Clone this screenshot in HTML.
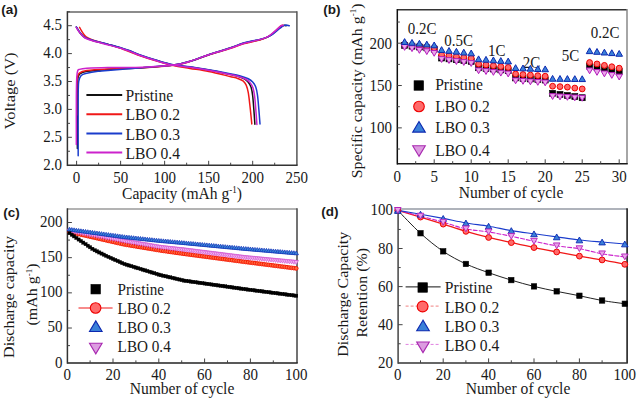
<!DOCTYPE html><html><head><meta charset="utf-8"><style>html,body{margin:0;padding:0;background:#fff;overflow:hidden}svg{display:block}</style></head><body><svg width="637" height="399" viewBox="0 0 637 399">
<rect width="637" height="399" fill="#fff"/>
<text transform="translate(1.20,13.80) scale(1.0,1.0)" font-family='"Liberation Sans", sans-serif' font-size="13.5" font-weight="bold" text-anchor="start" fill="#1a1a1a">(a)</text>
<line x1="67.40" y1="11.90" x2="296.90" y2="11.90" stroke="#666" stroke-width="1.5"/>
<line x1="296.90" y1="11.15" x2="296.90" y2="165.30" stroke="#555" stroke-width="1.5"/>
<line x1="67.40" y1="165.30" x2="297.65" y2="165.30" stroke="#333" stroke-width="1.5"/>
<line x1="67.40" y1="11.15" x2="67.40" y2="166.05" stroke="#333" stroke-width="1.5"/>
<line x1="76.60" y1="165.30" x2="76.60" y2="160.80" stroke="#444" stroke-width="1.0"/>
<text transform="translate(76.60,182.70) scale(1.0,1.14)" font-family='"Liberation Serif", serif' font-size="15" font-weight="normal" text-anchor="middle" fill="#1a1a1a">0</text>
<line x1="120.62" y1="165.30" x2="120.62" y2="160.80" stroke="#444" stroke-width="1.0"/>
<text transform="translate(120.62,182.70) scale(1.0,1.14)" font-family='"Liberation Serif", serif' font-size="15" font-weight="normal" text-anchor="middle" fill="#1a1a1a">50</text>
<line x1="164.64" y1="165.30" x2="164.64" y2="160.80" stroke="#444" stroke-width="1.0"/>
<text transform="translate(164.64,182.70) scale(1.0,1.14)" font-family='"Liberation Serif", serif' font-size="15" font-weight="normal" text-anchor="middle" fill="#1a1a1a">100</text>
<line x1="208.66" y1="165.30" x2="208.66" y2="160.80" stroke="#444" stroke-width="1.0"/>
<text transform="translate(208.66,182.70) scale(1.0,1.14)" font-family='"Liberation Serif", serif' font-size="15" font-weight="normal" text-anchor="middle" fill="#1a1a1a">150</text>
<line x1="252.68" y1="165.30" x2="252.68" y2="160.80" stroke="#444" stroke-width="1.0"/>
<text transform="translate(252.68,182.70) scale(1.0,1.14)" font-family='"Liberation Serif", serif' font-size="15" font-weight="normal" text-anchor="middle" fill="#1a1a1a">200</text>
<text transform="translate(296.70,182.70) scale(1.0,1.14)" font-family='"Liberation Serif", serif' font-size="15" font-weight="normal" text-anchor="middle" fill="#1a1a1a">250</text>
<line x1="98.61" y1="165.30" x2="98.61" y2="162.70" stroke="#444" stroke-width="1.0"/>
<line x1="142.63" y1="165.30" x2="142.63" y2="162.70" stroke="#444" stroke-width="1.0"/>
<line x1="186.65" y1="165.30" x2="186.65" y2="162.70" stroke="#444" stroke-width="1.0"/>
<line x1="230.67" y1="165.30" x2="230.67" y2="162.70" stroke="#444" stroke-width="1.0"/>
<line x1="274.69" y1="165.30" x2="274.69" y2="162.70" stroke="#444" stroke-width="1.0"/>
<text transform="translate(62.00,169.70) scale(1.0,1.14)" font-family='"Liberation Serif", serif' font-size="15" font-weight="normal" text-anchor="end" fill="#1a1a1a">2.0</text>
<line x1="67.40" y1="137.30" x2="71.90" y2="137.30" stroke="#444" stroke-width="1.0"/>
<text transform="translate(62.00,141.80) scale(1.0,1.14)" font-family='"Liberation Serif", serif' font-size="15" font-weight="normal" text-anchor="end" fill="#1a1a1a">2.5</text>
<line x1="67.40" y1="109.40" x2="71.90" y2="109.40" stroke="#444" stroke-width="1.0"/>
<text transform="translate(62.00,113.90) scale(1.0,1.14)" font-family='"Liberation Serif", serif' font-size="15" font-weight="normal" text-anchor="end" fill="#1a1a1a">3.0</text>
<line x1="67.40" y1="81.50" x2="71.90" y2="81.50" stroke="#444" stroke-width="1.0"/>
<text transform="translate(62.00,86.00) scale(1.0,1.14)" font-family='"Liberation Serif", serif' font-size="15" font-weight="normal" text-anchor="end" fill="#1a1a1a">3.5</text>
<line x1="67.40" y1="53.60" x2="71.90" y2="53.60" stroke="#444" stroke-width="1.0"/>
<text transform="translate(62.00,58.10) scale(1.0,1.14)" font-family='"Liberation Serif", serif' font-size="15" font-weight="normal" text-anchor="end" fill="#1a1a1a">4.0</text>
<line x1="67.40" y1="25.70" x2="71.90" y2="25.70" stroke="#444" stroke-width="1.0"/>
<text transform="translate(62.00,30.20) scale(1.0,1.14)" font-family='"Liberation Serif", serif' font-size="15" font-weight="normal" text-anchor="end" fill="#1a1a1a">4.5</text>
<line x1="67.40" y1="151.25" x2="70.00" y2="151.25" stroke="#444" stroke-width="1.0"/>
<line x1="67.40" y1="123.35" x2="70.00" y2="123.35" stroke="#444" stroke-width="1.0"/>
<line x1="67.40" y1="95.45" x2="70.00" y2="95.45" stroke="#444" stroke-width="1.0"/>
<line x1="67.40" y1="67.55" x2="70.00" y2="67.55" stroke="#444" stroke-width="1.0"/>
<line x1="67.40" y1="39.65" x2="70.00" y2="39.65" stroke="#444" stroke-width="1.0"/>
<line x1="67.40" y1="11.75" x2="70.00" y2="11.75" stroke="#444" stroke-width="1.0"/>
<text transform="translate(14.50,91.00) rotate(-90) scale(1.0,0.92)" font-family='"Liberation Serif", serif' font-size="16.5" font-weight="normal" text-anchor="middle" fill="#1a1a1a">Voltage (V)</text>
<text transform="translate(182.00,199.40) scale(1.0,1.1)" font-family='"Liberation Serif", serif' font-size="15.6" font-weight="normal" text-anchor="middle" fill="#1a1a1a">Capacity (mAh g<tspan font-size="9" dy="-6">-1</tspan><tspan dy="6">)</tspan></text>
<path d="M76.34,27.04 C76.67,27.60 77.58,29.22 78.36,30.39 C79.14,31.55 79.90,32.81 81.00,34.01 C82.10,35.22 83.03,36.57 84.96,37.64 C86.90,38.71 88.85,39.32 92.62,40.43 C96.39,41.55 103.03,43.13 107.59,44.34 C112.15,45.55 116.26,46.57 120.00,47.69 C123.75,48.80 126.80,49.82 130.04,51.03 C133.28,52.24 135.16,53.40 139.46,54.94 C143.76,56.47 150.17,58.57 155.84,60.24 C161.50,61.91 167.75,63.87 173.44,64.98 C179.14,66.10 184.13,66.10 190.00,66.94 C195.86,67.77 202.35,68.84 208.66,70.01 C214.97,71.17 223.09,72.89 227.85,73.91 C232.60,74.93 234.45,75.31 237.20,76.14 C239.95,76.98 242.49,77.91 244.34,78.93 C246.19,79.96 247.18,80.89 248.30,82.28 C249.42,83.68 250.35,85.07 251.08,87.30 C251.80,89.54 252.20,91.95 252.66,95.67 C253.12,99.39 253.48,104.88 253.85,109.62 C254.22,114.37 254.71,121.71 254.88,124.13" fill="none" stroke="#111" stroke-width="1.5" stroke-linejoin="round" stroke-linecap="round" opacity="1"/>
<path d="M77.39,148.46 C77.39,140.09 77.32,109.86 77.39,98.24 C77.47,86.61 77.38,82.80 77.83,78.71 C78.29,74.62 78.62,74.92 80.12,73.69 C81.62,72.45 82.21,72.00 86.81,71.29 C91.42,70.57 98.51,70.00 107.77,69.39 C117.03,68.79 131.42,68.39 142.37,67.66 C153.31,66.94 165.51,66.10 173.44,65.04 C181.38,63.98 184.13,63.02 190.00,61.30 C195.86,59.58 202.00,56.93 208.66,54.72 C215.32,52.50 224.02,49.97 229.97,48.02 C235.91,46.07 239.36,44.39 244.32,43.00 C249.28,41.60 255.88,40.63 259.72,39.65 C263.57,38.67 265.18,38.16 267.38,37.14 C269.58,36.12 270.39,35.42 272.93,33.51 C275.47,31.61 280.41,27.00 282.61,25.70 C284.81,24.40 285.55,25.70 286.14,25.70" fill="none" stroke="#111" stroke-width="1.5" stroke-linejoin="round" stroke-linecap="round" opacity="1"/>
<path d="M79.59,27.37 C79.90,27.93 80.62,29.42 81.44,30.72 C82.26,32.02 83.42,33.98 84.52,35.19 C85.62,36.39 86.70,37.19 88.05,37.98 C89.40,38.77 89.37,38.86 92.62,39.93 C95.88,41.00 103.03,43.04 107.59,44.39 C112.15,45.74 114.69,46.16 120.00,48.02 C125.32,49.88 133.49,53.41 139.46,55.55 C145.43,57.69 150.17,59.18 155.84,60.85 C161.50,62.53 167.75,64.34 173.44,65.60 C179.14,66.85 184.13,67.41 190.00,68.39 C195.86,69.36 202.00,70.11 208.66,71.46 C215.32,72.80 225.12,75.32 229.97,76.48 C234.81,77.64 235.54,77.69 237.71,78.43 C239.88,79.17 241.60,79.87 243.00,80.94 C244.39,82.01 245.20,82.89 246.08,84.85 C246.96,86.80 247.62,89.03 248.28,92.66 C248.94,96.29 249.60,102.89 250.04,106.61 C250.48,110.33 250.63,112.10 250.92,114.98 C251.21,117.86 251.65,122.42 251.80,123.91" fill="none" stroke="#f01818" stroke-width="1.5" stroke-linejoin="round" stroke-linecap="round" opacity="1"/>
<path d="M76.86,114.98 C76.86,110.33 76.79,93.22 76.86,87.08 C76.94,80.94 76.89,80.47 77.30,78.15 C77.72,75.84 77.74,74.46 79.33,73.19 C80.91,71.91 82.07,71.20 86.81,70.51 C91.55,69.81 98.51,69.45 107.77,69.00 C117.03,68.55 131.42,68.44 142.37,67.83 C153.31,67.22 165.51,66.37 173.44,65.32 C181.38,64.27 184.13,63.24 190.00,61.52 C195.86,59.80 202.00,57.15 208.66,54.99 C215.32,52.84 224.02,50.48 229.97,48.58 C235.91,46.67 239.36,45.00 244.32,43.56 C249.28,42.11 255.88,41.00 259.72,39.93 C263.57,38.86 265.18,38.26 267.38,37.14 C269.58,36.02 270.61,35.14 272.93,33.23 C275.25,31.33 279.53,26.96 281.29,25.70 C283.05,24.44 283.13,25.70 283.49,25.70" fill="none" stroke="#f01818" stroke-width="1.5" stroke-linejoin="round" stroke-linecap="round" opacity="1"/>
<path d="M76.34,26.82 C76.67,27.37 77.58,29.00 78.36,30.16 C79.14,31.33 79.90,32.58 81.00,33.79 C82.10,35.00 83.03,36.35 84.96,37.42 C86.90,38.49 88.85,39.09 92.62,40.21 C96.39,41.32 103.03,42.91 107.59,44.11 C112.15,45.32 116.26,46.35 120.00,47.46 C123.75,48.58 126.80,49.60 130.04,50.81 C133.28,52.02 135.16,53.18 139.46,54.72 C143.76,56.25 150.17,58.34 155.84,60.02 C161.50,61.69 167.75,63.64 173.44,64.76 C179.14,65.88 184.13,65.88 190.00,66.71 C195.86,67.55 202.00,68.62 208.66,69.78 C215.32,70.94 224.68,72.66 229.97,73.69 C235.25,74.71 237.30,75.08 240.35,75.92 C243.41,76.76 246.22,77.69 248.28,78.71 C250.33,79.73 251.43,80.66 252.68,82.06 C253.93,83.45 254.95,84.85 255.76,87.08 C256.57,89.31 257.01,91.73 257.52,95.45 C258.04,99.17 258.43,104.66 258.84,109.40 C259.25,114.14 259.80,121.49 259.99,123.91" fill="none" stroke="#1a3ccc" stroke-width="1.5" stroke-linejoin="round" stroke-linecap="round" opacity="1"/>
<path d="M78.18,155.71 C78.18,146.13 78.10,110.61 78.18,98.24 C78.27,85.87 78.21,85.30 78.71,81.50 C79.21,77.70 79.83,76.80 81.18,75.42 C82.53,74.03 84.01,73.87 86.81,73.19 C89.62,72.50 94.50,71.73 97.99,71.29 C101.49,70.84 100.37,71.11 107.77,70.51 C115.16,69.90 131.42,68.57 142.37,67.66 C153.31,66.75 165.51,66.10 173.44,65.04 C181.38,63.98 184.13,63.02 190.00,61.30 C195.86,59.58 202.00,56.93 208.66,54.72 C215.32,52.50 224.02,50.02 229.97,48.02 C235.91,46.02 239.36,44.16 244.32,42.72 C249.28,41.28 255.88,40.30 259.72,39.37 C263.57,38.44 265.18,38.02 267.38,37.14 C269.58,36.26 270.20,35.98 272.93,34.07 C275.66,32.16 281.03,27.09 283.76,25.70 C286.49,24.30 288.38,25.70 289.30,25.70" fill="none" stroke="#1a3ccc" stroke-width="1.5" stroke-linejoin="round" stroke-linecap="round" opacity="1"/>
<path d="M76.34,27.37 C76.67,27.93 77.58,29.56 78.36,30.72 C79.14,31.88 79.90,33.14 81.00,34.35 C82.10,35.56 83.03,36.91 84.96,37.98 C86.90,39.05 88.85,39.65 92.62,40.77 C96.39,41.88 103.03,43.46 107.59,44.67 C112.15,45.88 116.26,46.90 120.00,48.02 C123.75,49.14 126.80,50.16 130.04,51.37 C133.28,52.58 135.16,53.74 139.46,55.27 C143.76,56.81 150.17,58.90 155.84,60.57 C161.50,62.25 167.75,64.20 173.44,65.32 C179.14,66.43 184.13,66.43 190.00,67.27 C195.86,68.11 202.21,69.18 208.66,70.34 C215.11,71.50 223.72,73.22 228.69,74.25 C233.65,75.27 235.58,75.64 238.45,76.48 C241.32,77.31 243.97,78.24 245.90,79.27 C247.83,80.29 248.86,81.22 250.04,82.62 C251.21,84.01 252.18,85.41 252.93,87.64 C253.69,89.87 254.11,92.29 254.59,96.01 C255.07,99.73 255.44,105.21 255.83,109.96 C256.22,114.70 256.73,122.05 256.91,124.47" fill="none" stroke="#cc22cc" stroke-width="1.5" stroke-linejoin="round" stroke-linecap="round" opacity="1"/>
<path d="M76.34,144.55 C76.34,136.83 76.26,109.49 76.34,98.24 C76.41,86.99 76.56,81.59 76.78,77.04 C77.00,72.48 77.23,72.17 77.66,70.90 C78.08,69.62 77.80,69.83 79.33,69.39 C80.86,68.95 82.07,68.59 86.81,68.28 C91.55,67.96 98.51,67.66 107.77,67.49 C117.03,67.33 131.42,67.68 142.37,67.27 C153.31,66.86 165.51,66.03 173.44,65.04 C181.38,64.04 184.13,63.02 190.00,61.30 C195.86,59.58 202.00,56.88 208.66,54.72 C215.32,52.55 224.02,50.21 229.97,48.30 C235.91,46.39 239.36,44.72 244.32,43.28 C249.28,41.84 255.88,40.72 259.72,39.65 C263.57,38.58 265.18,37.98 267.38,36.86 C269.58,35.74 270.61,34.81 272.93,32.95 C275.25,31.09 279.61,26.91 281.29,25.70 C282.98,24.49 282.76,25.70 283.05,25.70" fill="none" stroke="#cc22cc" stroke-width="1.5" stroke-linejoin="round" stroke-linecap="round" opacity="1"/>
<line x1="86.40" y1="95.00" x2="122.20" y2="95.00" stroke="#111" stroke-width="2.0"/>
<text transform="translate(125.50,101.20) scale(1.0,1.1)" font-family='"Liberation Serif", serif' font-size="15.6" font-weight="normal" text-anchor="start" fill="#1a1a1a">Pristine</text>
<line x1="86.40" y1="114.20" x2="122.20" y2="114.20" stroke="#f01818" stroke-width="2.0"/>
<text transform="translate(125.50,120.40) scale(1.0,1.1)" font-family='"Liberation Serif", serif' font-size="15.6" font-weight="normal" text-anchor="start" fill="#1a1a1a">LBO 0.2</text>
<line x1="86.40" y1="133.40" x2="122.20" y2="133.40" stroke="#1a3ccc" stroke-width="2.0"/>
<text transform="translate(125.50,139.60) scale(1.0,1.1)" font-family='"Liberation Serif", serif' font-size="15.6" font-weight="normal" text-anchor="start" fill="#1a1a1a">LBO 0.3</text>
<line x1="86.40" y1="152.60" x2="122.20" y2="152.60" stroke="#cc22cc" stroke-width="2.0"/>
<text transform="translate(125.50,158.80) scale(1.0,1.1)" font-family='"Liberation Serif", serif' font-size="15.6" font-weight="normal" text-anchor="start" fill="#1a1a1a">LBO 0.4</text>
<text transform="translate(323.20,13.80) scale(1.0,1.0)" font-family='"Liberation Sans", sans-serif' font-size="13.5" font-weight="bold" text-anchor="start" fill="#1a1a1a">(b)</text>
<line x1="397.30" y1="9.80" x2="627.00" y2="9.80" stroke="#333" stroke-width="1.5"/>
<line x1="627.00" y1="9.05" x2="627.00" y2="163.80" stroke="#888" stroke-width="1.5"/>
<line x1="397.30" y1="163.80" x2="627.75" y2="163.80" stroke="#1a1a1a" stroke-width="1.5"/>
<line x1="397.30" y1="9.05" x2="397.30" y2="164.55" stroke="#111" stroke-width="1.5"/>
<text transform="translate(397.20,181.90) scale(1.0,1.14)" font-family='"Liberation Serif", serif' font-size="15" font-weight="normal" text-anchor="middle" fill="#1a1a1a">0</text>
<line x1="434.20" y1="163.80" x2="434.20" y2="159.30" stroke="#444" stroke-width="1.0"/>
<text transform="translate(434.20,181.90) scale(1.0,1.14)" font-family='"Liberation Serif", serif' font-size="15" font-weight="normal" text-anchor="middle" fill="#1a1a1a">5</text>
<line x1="471.20" y1="163.80" x2="471.20" y2="159.30" stroke="#444" stroke-width="1.0"/>
<text transform="translate(471.20,181.90) scale(1.0,1.14)" font-family='"Liberation Serif", serif' font-size="15" font-weight="normal" text-anchor="middle" fill="#1a1a1a">10</text>
<line x1="508.20" y1="163.80" x2="508.20" y2="159.30" stroke="#444" stroke-width="1.0"/>
<text transform="translate(508.20,181.90) scale(1.0,1.14)" font-family='"Liberation Serif", serif' font-size="15" font-weight="normal" text-anchor="middle" fill="#1a1a1a">15</text>
<line x1="545.20" y1="163.80" x2="545.20" y2="159.30" stroke="#444" stroke-width="1.0"/>
<text transform="translate(545.20,181.90) scale(1.0,1.14)" font-family='"Liberation Serif", serif' font-size="15" font-weight="normal" text-anchor="middle" fill="#1a1a1a">20</text>
<line x1="582.20" y1="163.80" x2="582.20" y2="159.30" stroke="#444" stroke-width="1.0"/>
<text transform="translate(582.20,181.90) scale(1.0,1.14)" font-family='"Liberation Serif", serif' font-size="15" font-weight="normal" text-anchor="middle" fill="#1a1a1a">25</text>
<line x1="619.20" y1="163.80" x2="619.20" y2="159.30" stroke="#444" stroke-width="1.0"/>
<text transform="translate(619.20,181.90) scale(1.0,1.14)" font-family='"Liberation Serif", serif' font-size="15" font-weight="normal" text-anchor="middle" fill="#1a1a1a">30</text>
<line x1="415.70" y1="163.80" x2="415.70" y2="161.20" stroke="#444" stroke-width="1.0"/>
<line x1="452.70" y1="163.80" x2="452.70" y2="161.20" stroke="#444" stroke-width="1.0"/>
<line x1="489.70" y1="163.80" x2="489.70" y2="161.20" stroke="#444" stroke-width="1.0"/>
<line x1="526.70" y1="163.80" x2="526.70" y2="161.20" stroke="#444" stroke-width="1.0"/>
<line x1="563.70" y1="163.80" x2="563.70" y2="161.20" stroke="#444" stroke-width="1.0"/>
<line x1="600.70" y1="163.80" x2="600.70" y2="161.20" stroke="#444" stroke-width="1.0"/>
<line x1="397.30" y1="127.86" x2="401.80" y2="127.86" stroke="#444" stroke-width="1.0"/>
<text transform="translate(392.00,133.46) scale(1.0,1.14)" font-family='"Liberation Serif", serif' font-size="15" font-weight="normal" text-anchor="end" fill="#1a1a1a">100</text>
<line x1="397.30" y1="85.53" x2="401.80" y2="85.53" stroke="#444" stroke-width="1.0"/>
<text transform="translate(392.00,91.13) scale(1.0,1.14)" font-family='"Liberation Serif", serif' font-size="15" font-weight="normal" text-anchor="end" fill="#1a1a1a">150</text>
<line x1="397.30" y1="43.20" x2="401.80" y2="43.20" stroke="#444" stroke-width="1.0"/>
<text transform="translate(392.00,48.80) scale(1.0,1.14)" font-family='"Liberation Serif", serif' font-size="15" font-weight="normal" text-anchor="end" fill="#1a1a1a">200</text>
<line x1="397.30" y1="149.03" x2="399.90" y2="149.03" stroke="#444" stroke-width="1.0"/>
<line x1="397.30" y1="106.70" x2="399.90" y2="106.70" stroke="#444" stroke-width="1.0"/>
<line x1="397.30" y1="64.37" x2="399.90" y2="64.37" stroke="#444" stroke-width="1.0"/>
<line x1="397.30" y1="22.04" x2="399.90" y2="22.04" stroke="#444" stroke-width="1.0"/>
<text transform="translate(361.80,90.90) rotate(-90) scale(1.0,0.92)" font-family='"Liberation Serif", serif' font-size="15.9" font-weight="normal" text-anchor="middle" fill="#1a1a1a">Specific capacity (mAh g<tspan font-size="9" dy="-6">-1</tspan><tspan dy="6">)</tspan></text>
<text transform="translate(511.00,197.80) scale(1.0,1.1)" font-family='"Liberation Serif", serif' font-size="15.6" font-weight="normal" text-anchor="middle" fill="#1a1a1a">Number of cycle</text>
<text transform="translate(407.80,34.30) scale(1.0,1.14)" font-family='"Liberation Serif", serif' font-size="15" font-weight="normal" text-anchor="start" fill="#1a1a1a">0.2C</text>
<text transform="translate(444.20,46.20) scale(1.0,1.14)" font-family='"Liberation Serif", serif' font-size="15" font-weight="normal" text-anchor="start" fill="#1a1a1a">0.5C</text>
<text transform="translate(488.00,56.00) scale(1.0,1.14)" font-family='"Liberation Serif", serif' font-size="15" font-weight="normal" text-anchor="start" fill="#1a1a1a">1C</text>
<text transform="translate(522.80,67.50) scale(1.0,1.14)" font-family='"Liberation Serif", serif' font-size="15" font-weight="normal" text-anchor="start" fill="#1a1a1a">2C</text>
<text transform="translate(561.80,60.50) scale(1.0,1.14)" font-family='"Liberation Serif", serif' font-size="15" font-weight="normal" text-anchor="start" fill="#1a1a1a">5C</text>
<text transform="translate(590.80,37.50) scale(1.0,1.14)" font-family='"Liberation Serif", serif' font-size="15" font-weight="normal" text-anchor="start" fill="#1a1a1a">0.2C</text>
<rect x="401.60" y="42.32" width="6.00" height="6.00" fill="#000" stroke="#000" stroke-width="0.6"/>
<rect x="409.00" y="43.16" width="6.00" height="6.00" fill="#000" stroke="#000" stroke-width="0.6"/>
<rect x="416.40" y="44.01" width="6.00" height="6.00" fill="#000" stroke="#000" stroke-width="0.6"/>
<rect x="423.80" y="44.86" width="6.00" height="6.00" fill="#000" stroke="#000" stroke-width="0.6"/>
<rect x="431.20" y="46.13" width="6.00" height="6.00" fill="#000" stroke="#000" stroke-width="0.6"/>
<rect x="438.60" y="55.02" width="6.00" height="6.00" fill="#000" stroke="#000" stroke-width="0.6"/>
<rect x="446.00" y="55.86" width="6.00" height="6.00" fill="#000" stroke="#000" stroke-width="0.6"/>
<rect x="453.40" y="56.71" width="6.00" height="6.00" fill="#000" stroke="#000" stroke-width="0.6"/>
<rect x="460.80" y="57.56" width="6.00" height="6.00" fill="#000" stroke="#000" stroke-width="0.6"/>
<rect x="468.20" y="58.40" width="6.00" height="6.00" fill="#000" stroke="#000" stroke-width="0.6"/>
<rect x="475.60" y="64.75" width="6.00" height="6.00" fill="#000" stroke="#000" stroke-width="0.6"/>
<rect x="483.00" y="65.43" width="6.00" height="6.00" fill="#000" stroke="#000" stroke-width="0.6"/>
<rect x="490.40" y="66.02" width="6.00" height="6.00" fill="#000" stroke="#000" stroke-width="0.6"/>
<rect x="497.80" y="66.87" width="6.00" height="6.00" fill="#000" stroke="#000" stroke-width="0.6"/>
<rect x="505.20" y="67.71" width="6.00" height="6.00" fill="#000" stroke="#000" stroke-width="0.6"/>
<rect x="512.60" y="74.91" width="6.00" height="6.00" fill="#000" stroke="#000" stroke-width="0.6"/>
<rect x="520.00" y="75.33" width="6.00" height="6.00" fill="#000" stroke="#000" stroke-width="0.6"/>
<rect x="527.40" y="75.93" width="6.00" height="6.00" fill="#000" stroke="#000" stroke-width="0.6"/>
<rect x="534.80" y="76.52" width="6.00" height="6.00" fill="#000" stroke="#000" stroke-width="0.6"/>
<rect x="542.20" y="77.03" width="6.00" height="6.00" fill="#000" stroke="#000" stroke-width="0.6"/>
<rect x="549.60" y="90.32" width="6.00" height="6.00" fill="#000" stroke="#000" stroke-width="0.6"/>
<rect x="557.00" y="91.42" width="6.00" height="6.00" fill="#000" stroke="#000" stroke-width="0.6"/>
<rect x="564.40" y="92.52" width="6.00" height="6.00" fill="#000" stroke="#000" stroke-width="0.6"/>
<rect x="571.80" y="93.54" width="6.00" height="6.00" fill="#000" stroke="#000" stroke-width="0.6"/>
<rect x="579.20" y="94.72" width="6.00" height="6.00" fill="#000" stroke="#000" stroke-width="0.6"/>
<rect x="586.60" y="63.06" width="6.00" height="6.00" fill="#000" stroke="#000" stroke-width="0.6"/>
<rect x="594.00" y="64.41" width="6.00" height="6.00" fill="#000" stroke="#000" stroke-width="0.6"/>
<rect x="601.40" y="65.77" width="6.00" height="6.00" fill="#000" stroke="#000" stroke-width="0.6"/>
<rect x="608.80" y="67.12" width="6.00" height="6.00" fill="#000" stroke="#000" stroke-width="0.6"/>
<rect x="616.20" y="68.48" width="6.00" height="6.00" fill="#000" stroke="#000" stroke-width="0.6"/>
<circle cx="404.60" cy="44.47" r="2.90" fill="#ff6a6a" stroke="#ee0000" stroke-width="1.0"/>
<circle cx="412.00" cy="45.32" r="2.90" fill="#ff6a6a" stroke="#ee0000" stroke-width="1.0"/>
<circle cx="419.40" cy="46.16" r="2.90" fill="#ff6a6a" stroke="#ee0000" stroke-width="1.0"/>
<circle cx="426.80" cy="47.01" r="2.90" fill="#ff6a6a" stroke="#ee0000" stroke-width="1.0"/>
<circle cx="434.20" cy="47.86" r="2.90" fill="#ff6a6a" stroke="#ee0000" stroke-width="1.0"/>
<circle cx="441.60" cy="54.80" r="2.90" fill="#ff6a6a" stroke="#ee0000" stroke-width="1.0"/>
<circle cx="449.00" cy="55.65" r="2.90" fill="#ff6a6a" stroke="#ee0000" stroke-width="1.0"/>
<circle cx="456.40" cy="56.49" r="2.90" fill="#ff6a6a" stroke="#ee0000" stroke-width="1.0"/>
<circle cx="463.80" cy="57.34" r="2.90" fill="#ff6a6a" stroke="#ee0000" stroke-width="1.0"/>
<circle cx="471.20" cy="58.18" r="2.90" fill="#ff6a6a" stroke="#ee0000" stroke-width="1.0"/>
<circle cx="478.60" cy="64.03" r="2.90" fill="#ff6a6a" stroke="#ee0000" stroke-width="1.0"/>
<circle cx="486.00" cy="64.87" r="2.90" fill="#ff6a6a" stroke="#ee0000" stroke-width="1.0"/>
<circle cx="493.40" cy="65.72" r="2.90" fill="#ff6a6a" stroke="#ee0000" stroke-width="1.0"/>
<circle cx="500.80" cy="66.57" r="2.90" fill="#ff6a6a" stroke="#ee0000" stroke-width="1.0"/>
<circle cx="508.20" cy="67.41" r="2.90" fill="#ff6a6a" stroke="#ee0000" stroke-width="1.0"/>
<circle cx="515.60" cy="73.93" r="2.90" fill="#ff6a6a" stroke="#ee0000" stroke-width="1.0"/>
<circle cx="523.00" cy="74.52" r="2.90" fill="#ff6a6a" stroke="#ee0000" stroke-width="1.0"/>
<circle cx="530.40" cy="75.03" r="2.90" fill="#ff6a6a" stroke="#ee0000" stroke-width="1.0"/>
<circle cx="537.80" cy="75.62" r="2.90" fill="#ff6a6a" stroke="#ee0000" stroke-width="1.0"/>
<circle cx="545.20" cy="76.22" r="2.90" fill="#ff6a6a" stroke="#ee0000" stroke-width="1.0"/>
<circle cx="552.60" cy="86.21" r="2.90" fill="#ff6a6a" stroke="#ee0000" stroke-width="1.0"/>
<circle cx="560.00" cy="86.63" r="2.90" fill="#ff6a6a" stroke="#ee0000" stroke-width="1.0"/>
<circle cx="567.40" cy="87.14" r="2.90" fill="#ff6a6a" stroke="#ee0000" stroke-width="1.0"/>
<circle cx="574.80" cy="88.07" r="2.90" fill="#ff6a6a" stroke="#ee0000" stroke-width="1.0"/>
<circle cx="582.20" cy="88.92" r="2.90" fill="#ff6a6a" stroke="#ee0000" stroke-width="1.0"/>
<circle cx="589.60" cy="62.50" r="2.90" fill="#ff6a6a" stroke="#ee0000" stroke-width="1.0"/>
<circle cx="597.00" cy="63.94" r="2.90" fill="#ff6a6a" stroke="#ee0000" stroke-width="1.0"/>
<circle cx="604.40" cy="65.38" r="2.90" fill="#ff6a6a" stroke="#ee0000" stroke-width="1.0"/>
<circle cx="611.80" cy="66.74" r="2.90" fill="#ff6a6a" stroke="#ee0000" stroke-width="1.0"/>
<circle cx="619.20" cy="68.17" r="2.90" fill="#ff6a6a" stroke="#ee0000" stroke-width="1.0"/>
<polygon points="404.60,50.33 401.30,44.53 407.90,44.53" fill="#eaa6ea" stroke="#b41cbc" stroke-width="1.0" stroke-linejoin="miter"/>
<polygon points="412.00,51.60 408.70,45.80 415.30,45.80" fill="#eaa6ea" stroke="#b41cbc" stroke-width="1.0" stroke-linejoin="miter"/>
<polygon points="419.40,53.30 416.10,47.50 422.70,47.50" fill="#eaa6ea" stroke="#b41cbc" stroke-width="1.0" stroke-linejoin="miter"/>
<polygon points="426.80,54.57 423.50,48.77 430.10,48.77" fill="#eaa6ea" stroke="#b41cbc" stroke-width="1.0" stroke-linejoin="miter"/>
<polygon points="434.20,56.26 430.90,50.46 437.50,50.46" fill="#eaa6ea" stroke="#b41cbc" stroke-width="1.0" stroke-linejoin="miter"/>
<polygon points="441.60,62.44 438.30,56.64 444.90,56.64" fill="#eaa6ea" stroke="#b41cbc" stroke-width="1.0" stroke-linejoin="miter"/>
<polygon points="449.00,63.46 445.70,57.66 452.30,57.66" fill="#eaa6ea" stroke="#b41cbc" stroke-width="1.0" stroke-linejoin="miter"/>
<polygon points="456.40,64.47 453.10,58.67 459.70,58.67" fill="#eaa6ea" stroke="#b41cbc" stroke-width="1.0" stroke-linejoin="miter"/>
<polygon points="463.80,65.40 460.50,59.60 467.10,59.60" fill="#eaa6ea" stroke="#b41cbc" stroke-width="1.0" stroke-linejoin="miter"/>
<polygon points="471.20,66.42 467.90,60.62 474.50,60.62" fill="#eaa6ea" stroke="#b41cbc" stroke-width="1.0" stroke-linejoin="miter"/>
<polygon points="478.60,73.70 475.30,67.90 481.90,67.90" fill="#eaa6ea" stroke="#b41cbc" stroke-width="1.0" stroke-linejoin="miter"/>
<polygon points="486.00,74.46 482.70,68.66 489.30,68.66" fill="#eaa6ea" stroke="#b41cbc" stroke-width="1.0" stroke-linejoin="miter"/>
<polygon points="493.40,75.31 490.10,69.51 496.70,69.51" fill="#eaa6ea" stroke="#b41cbc" stroke-width="1.0" stroke-linejoin="miter"/>
<polygon points="500.80,76.07 497.50,70.27 504.10,70.27" fill="#eaa6ea" stroke="#b41cbc" stroke-width="1.0" stroke-linejoin="miter"/>
<polygon points="508.20,76.92 504.90,71.12 511.50,71.12" fill="#eaa6ea" stroke="#b41cbc" stroke-width="1.0" stroke-linejoin="miter"/>
<polygon points="515.60,83.77 512.30,77.97 518.90,77.97" fill="#eaa6ea" stroke="#b41cbc" stroke-width="1.0" stroke-linejoin="miter"/>
<polygon points="523.00,84.28 519.70,78.48 526.30,78.48" fill="#eaa6ea" stroke="#b41cbc" stroke-width="1.0" stroke-linejoin="miter"/>
<polygon points="530.40,84.79 527.10,78.99 533.70,78.99" fill="#eaa6ea" stroke="#b41cbc" stroke-width="1.0" stroke-linejoin="miter"/>
<polygon points="537.80,85.30 534.50,79.50 541.10,79.50" fill="#eaa6ea" stroke="#b41cbc" stroke-width="1.0" stroke-linejoin="miter"/>
<polygon points="545.20,85.81 541.90,80.01 548.50,80.01" fill="#eaa6ea" stroke="#b41cbc" stroke-width="1.0" stroke-linejoin="miter"/>
<polygon points="552.60,99.44 549.30,93.64 555.90,93.64" fill="#eaa6ea" stroke="#b41cbc" stroke-width="1.0" stroke-linejoin="miter"/>
<polygon points="560.00,99.86 556.70,94.06 563.30,94.06" fill="#eaa6ea" stroke="#b41cbc" stroke-width="1.0" stroke-linejoin="miter"/>
<polygon points="567.40,100.28 564.10,94.48 570.70,94.48" fill="#eaa6ea" stroke="#b41cbc" stroke-width="1.0" stroke-linejoin="miter"/>
<polygon points="574.80,100.79 571.50,94.99 578.10,94.99" fill="#eaa6ea" stroke="#b41cbc" stroke-width="1.0" stroke-linejoin="miter"/>
<polygon points="582.20,101.21 578.90,95.41 585.50,95.41" fill="#eaa6ea" stroke="#b41cbc" stroke-width="1.0" stroke-linejoin="miter"/>
<polygon points="589.60,73.78 586.30,67.98 592.90,67.98" fill="#eaa6ea" stroke="#b41cbc" stroke-width="1.0" stroke-linejoin="miter"/>
<polygon points="597.00,75.31 593.70,69.51 600.30,69.51" fill="#eaa6ea" stroke="#b41cbc" stroke-width="1.0" stroke-linejoin="miter"/>
<polygon points="604.40,76.83 601.10,71.03 607.70,71.03" fill="#eaa6ea" stroke="#b41cbc" stroke-width="1.0" stroke-linejoin="miter"/>
<polygon points="611.80,78.36 608.50,72.56 615.10,72.56" fill="#eaa6ea" stroke="#b41cbc" stroke-width="1.0" stroke-linejoin="miter"/>
<polygon points="619.20,79.96 615.90,74.16 622.50,74.16" fill="#eaa6ea" stroke="#b41cbc" stroke-width="1.0" stroke-linejoin="miter"/>
<polygon points="404.60,38.61 401.30,44.41 407.90,44.41" fill="#3a80d8" stroke="#0c28b0" stroke-width="1.0" stroke-linejoin="miter"/>
<polygon points="412.00,39.45 408.70,45.25 415.30,45.25" fill="#3a80d8" stroke="#0c28b0" stroke-width="1.0" stroke-linejoin="miter"/>
<polygon points="419.40,40.30 416.10,46.10 422.70,46.10" fill="#3a80d8" stroke="#0c28b0" stroke-width="1.0" stroke-linejoin="miter"/>
<polygon points="426.80,41.15 423.50,46.95 430.10,46.95" fill="#3a80d8" stroke="#0c28b0" stroke-width="1.0" stroke-linejoin="miter"/>
<polygon points="434.20,41.99 430.90,47.79 437.50,47.79" fill="#3a80d8" stroke="#0c28b0" stroke-width="1.0" stroke-linejoin="miter"/>
<polygon points="441.60,46.65 438.30,52.45 444.90,52.45" fill="#3a80d8" stroke="#0c28b0" stroke-width="1.0" stroke-linejoin="miter"/>
<polygon points="449.00,47.50 445.70,53.30 452.30,53.30" fill="#3a80d8" stroke="#0c28b0" stroke-width="1.0" stroke-linejoin="miter"/>
<polygon points="456.40,48.34 453.10,54.14 459.70,54.14" fill="#3a80d8" stroke="#0c28b0" stroke-width="1.0" stroke-linejoin="miter"/>
<polygon points="463.80,49.19 460.50,54.99 467.10,54.99" fill="#3a80d8" stroke="#0c28b0" stroke-width="1.0" stroke-linejoin="miter"/>
<polygon points="471.20,50.04 467.90,55.84 474.50,55.84" fill="#3a80d8" stroke="#0c28b0" stroke-width="1.0" stroke-linejoin="miter"/>
<polygon points="478.60,55.88 475.30,61.68 481.90,61.68" fill="#3a80d8" stroke="#0c28b0" stroke-width="1.0" stroke-linejoin="miter"/>
<polygon points="486.00,56.39 482.70,62.19 489.30,62.19" fill="#3a80d8" stroke="#0c28b0" stroke-width="1.0" stroke-linejoin="miter"/>
<polygon points="493.40,56.98 490.10,62.78 496.70,62.78" fill="#3a80d8" stroke="#0c28b0" stroke-width="1.0" stroke-linejoin="miter"/>
<polygon points="500.80,57.57 497.50,63.37 504.10,63.37" fill="#3a80d8" stroke="#0c28b0" stroke-width="1.0" stroke-linejoin="miter"/>
<polygon points="508.20,58.08 504.90,63.88 511.50,63.88" fill="#3a80d8" stroke="#0c28b0" stroke-width="1.0" stroke-linejoin="miter"/>
<polygon points="515.60,64.68 512.30,70.48 518.90,70.48" fill="#3a80d8" stroke="#0c28b0" stroke-width="1.0" stroke-linejoin="miter"/>
<polygon points="523.00,65.02 519.70,70.82 526.30,70.82" fill="#3a80d8" stroke="#0c28b0" stroke-width="1.0" stroke-linejoin="miter"/>
<polygon points="530.40,65.36 527.10,71.16 533.70,71.16" fill="#3a80d8" stroke="#0c28b0" stroke-width="1.0" stroke-linejoin="miter"/>
<polygon points="537.80,65.70 534.50,71.50 541.10,71.50" fill="#3a80d8" stroke="#0c28b0" stroke-width="1.0" stroke-linejoin="miter"/>
<polygon points="545.20,65.95 541.90,71.75 548.50,71.75" fill="#3a80d8" stroke="#0c28b0" stroke-width="1.0" stroke-linejoin="miter"/>
<polygon points="552.60,75.43 549.30,81.23 555.90,81.23" fill="#3a80d8" stroke="#0c28b0" stroke-width="1.0" stroke-linejoin="miter"/>
<polygon points="560.00,75.52 556.70,81.32 563.30,81.32" fill="#3a80d8" stroke="#0c28b0" stroke-width="1.0" stroke-linejoin="miter"/>
<polygon points="567.40,75.60 564.10,81.40 570.70,81.40" fill="#3a80d8" stroke="#0c28b0" stroke-width="1.0" stroke-linejoin="miter"/>
<polygon points="574.80,75.69 571.50,81.49 578.10,81.49" fill="#3a80d8" stroke="#0c28b0" stroke-width="1.0" stroke-linejoin="miter"/>
<polygon points="582.20,75.77 578.90,81.57 585.50,81.57" fill="#3a80d8" stroke="#0c28b0" stroke-width="1.0" stroke-linejoin="miter"/>
<polygon points="589.60,47.83 586.30,53.63 592.90,53.63" fill="#3a80d8" stroke="#0c28b0" stroke-width="1.0" stroke-linejoin="miter"/>
<polygon points="597.00,48.51 593.70,54.31 600.30,54.31" fill="#3a80d8" stroke="#0c28b0" stroke-width="1.0" stroke-linejoin="miter"/>
<polygon points="604.40,49.19 601.10,54.99 607.70,54.99" fill="#3a80d8" stroke="#0c28b0" stroke-width="1.0" stroke-linejoin="miter"/>
<polygon points="611.80,49.78 608.50,55.58 615.10,55.58" fill="#3a80d8" stroke="#0c28b0" stroke-width="1.0" stroke-linejoin="miter"/>
<polygon points="619.20,50.46 615.90,56.26 622.50,56.26" fill="#3a80d8" stroke="#0c28b0" stroke-width="1.0" stroke-linejoin="miter"/>
<rect x="414.05" y="80.75" width="9.50" height="9.50" fill="#000" stroke="#000" stroke-width="0.6"/>
<circle cx="419.00" cy="106.50" r="5.30" fill="#ff6a6a" stroke="#ee0000" stroke-width="1.1"/>
<polygon points="419.00,121.50 412.70,132.10 425.30,132.10" fill="#3a80d8" stroke="#0c28b0" stroke-width="1.1" stroke-linejoin="miter"/>
<polygon points="419.00,156.30 412.70,145.70 425.30,145.70" fill="#dc9ce0" stroke="#a828b0" stroke-width="1.1" stroke-linejoin="miter"/>
<text transform="translate(435.20,90.00) scale(1.0,1.1)" font-family='"Liberation Serif", serif' font-size="15.6" font-weight="normal" text-anchor="start" fill="#1a1a1a">Pristine</text>
<text transform="translate(435.20,112.00) scale(1.0,1.1)" font-family='"Liberation Serif", serif' font-size="15.6" font-weight="normal" text-anchor="start" fill="#1a1a1a">LBO 0.2</text>
<text transform="translate(435.20,132.60) scale(1.0,1.1)" font-family='"Liberation Serif", serif' font-size="15.6" font-weight="normal" text-anchor="start" fill="#1a1a1a">LBO 0.3</text>
<text transform="translate(435.20,156.30) scale(1.0,1.1)" font-family='"Liberation Serif", serif' font-size="15.6" font-weight="normal" text-anchor="start" fill="#1a1a1a">LBO 0.4</text>
<text transform="translate(3.20,216.80) scale(1.0,1.0)" font-family='"Liberation Sans", sans-serif' font-size="13.5" font-weight="bold" text-anchor="start" fill="#1a1a1a">(c)</text>
<line x1="67.40" y1="209.00" x2="297.00" y2="209.00" stroke="#9a9a9a" stroke-width="1.5"/>
<line x1="297.00" y1="208.25" x2="297.00" y2="363.00" stroke="#444" stroke-width="1.5"/>
<line x1="67.40" y1="363.00" x2="297.75" y2="363.00" stroke="#222" stroke-width="1.5"/>
<line x1="67.40" y1="208.25" x2="67.40" y2="363.75" stroke="#333" stroke-width="1.5"/>
<text transform="translate(67.20,380.30) scale(1.0,1.14)" font-family='"Liberation Serif", serif' font-size="15" font-weight="normal" text-anchor="middle" fill="#1a1a1a">0</text>
<line x1="113.00" y1="363.00" x2="113.00" y2="358.50" stroke="#444" stroke-width="1.0"/>
<text transform="translate(113.00,380.30) scale(1.0,1.14)" font-family='"Liberation Serif", serif' font-size="15" font-weight="normal" text-anchor="middle" fill="#1a1a1a">20</text>
<line x1="158.80" y1="363.00" x2="158.80" y2="358.50" stroke="#444" stroke-width="1.0"/>
<text transform="translate(158.80,380.30) scale(1.0,1.14)" font-family='"Liberation Serif", serif' font-size="15" font-weight="normal" text-anchor="middle" fill="#1a1a1a">40</text>
<line x1="204.60" y1="363.00" x2="204.60" y2="358.50" stroke="#444" stroke-width="1.0"/>
<text transform="translate(204.60,380.30) scale(1.0,1.14)" font-family='"Liberation Serif", serif' font-size="15" font-weight="normal" text-anchor="middle" fill="#1a1a1a">60</text>
<line x1="250.40" y1="363.00" x2="250.40" y2="358.50" stroke="#444" stroke-width="1.0"/>
<text transform="translate(250.40,380.30) scale(1.0,1.14)" font-family='"Liberation Serif", serif' font-size="15" font-weight="normal" text-anchor="middle" fill="#1a1a1a">80</text>
<text transform="translate(296.20,380.30) scale(1.0,1.14)" font-family='"Liberation Serif", serif' font-size="15" font-weight="normal" text-anchor="middle" fill="#1a1a1a">100</text>
<line x1="90.10" y1="363.00" x2="90.10" y2="360.40" stroke="#444" stroke-width="1.0"/>
<line x1="135.90" y1="363.00" x2="135.90" y2="360.40" stroke="#444" stroke-width="1.0"/>
<line x1="181.70" y1="363.00" x2="181.70" y2="360.40" stroke="#444" stroke-width="1.0"/>
<line x1="227.50" y1="363.00" x2="227.50" y2="360.40" stroke="#444" stroke-width="1.0"/>
<line x1="273.30" y1="363.00" x2="273.30" y2="360.40" stroke="#444" stroke-width="1.0"/>
<text transform="translate(62.50,367.50) scale(1.0,1.14)" font-family='"Liberation Serif", serif' font-size="15" font-weight="normal" text-anchor="end" fill="#1a1a1a">0</text>
<line x1="67.40" y1="328.02" x2="71.90" y2="328.02" stroke="#444" stroke-width="1.0"/>
<text transform="translate(62.50,332.32) scale(1.0,1.14)" font-family='"Liberation Serif", serif' font-size="15" font-weight="normal" text-anchor="end" fill="#1a1a1a">50</text>
<line x1="67.40" y1="292.85" x2="71.90" y2="292.85" stroke="#444" stroke-width="1.0"/>
<text transform="translate(62.50,297.15) scale(1.0,1.14)" font-family='"Liberation Serif", serif' font-size="15" font-weight="normal" text-anchor="end" fill="#1a1a1a">100</text>
<line x1="67.40" y1="257.67" x2="71.90" y2="257.67" stroke="#444" stroke-width="1.0"/>
<text transform="translate(62.50,261.97) scale(1.0,1.14)" font-family='"Liberation Serif", serif' font-size="15" font-weight="normal" text-anchor="end" fill="#1a1a1a">150</text>
<line x1="67.40" y1="222.50" x2="71.90" y2="222.50" stroke="#444" stroke-width="1.0"/>
<text transform="translate(62.50,226.80) scale(1.0,1.14)" font-family='"Liberation Serif", serif' font-size="15" font-weight="normal" text-anchor="end" fill="#1a1a1a">200</text>
<line x1="67.40" y1="345.61" x2="70.00" y2="345.61" stroke="#444" stroke-width="1.0"/>
<line x1="67.40" y1="310.44" x2="70.00" y2="310.44" stroke="#444" stroke-width="1.0"/>
<line x1="67.40" y1="275.26" x2="70.00" y2="275.26" stroke="#444" stroke-width="1.0"/>
<line x1="67.40" y1="240.09" x2="70.00" y2="240.09" stroke="#444" stroke-width="1.0"/>
<text transform="translate(13.60,297.00) rotate(-90) scale(1.0,0.88)" font-family='"Liberation Serif", serif' font-size="16" font-weight="normal" text-anchor="middle" fill="#1a1a1a">Discharge capacity</text>
<text transform="translate(37.20,294.50) rotate(-90) scale(1.0,0.88)" font-family='"Liberation Serif", serif' font-size="16" font-weight="normal" text-anchor="middle" fill="#1a1a1a">(mAh g<tspan font-size="9" dy="-6">-1</tspan><tspan dy="6">)</tspan></text>
<text transform="translate(182.00,394.20) scale(1.0,1.1)" font-family='"Liberation Serif", serif' font-size="15.6" font-weight="normal" text-anchor="middle" fill="#1a1a1a">Number of cycle</text>
<circle cx="69.49" cy="231.92" r="1.90" fill="#ff6a40" stroke="#f41400" stroke-width="0.9"/>
<circle cx="71.78" cy="232.45" r="1.90" fill="#ff6a40" stroke="#f41400" stroke-width="0.9"/>
<circle cx="74.07" cy="232.97" r="1.90" fill="#ff6a40" stroke="#f41400" stroke-width="0.9"/>
<circle cx="76.36" cy="233.49" r="1.90" fill="#ff6a40" stroke="#f41400" stroke-width="0.9"/>
<circle cx="78.65" cy="234.01" r="1.90" fill="#ff6a40" stroke="#f41400" stroke-width="0.9"/>
<circle cx="80.94" cy="234.54" r="1.90" fill="#ff6a40" stroke="#f41400" stroke-width="0.9"/>
<circle cx="83.23" cy="235.06" r="1.90" fill="#ff6a40" stroke="#f41400" stroke-width="0.9"/>
<circle cx="85.52" cy="235.58" r="1.90" fill="#ff6a40" stroke="#f41400" stroke-width="0.9"/>
<circle cx="87.81" cy="236.11" r="1.90" fill="#ff6a40" stroke="#f41400" stroke-width="0.9"/>
<circle cx="90.10" cy="236.63" r="1.90" fill="#ff6a40" stroke="#f41400" stroke-width="0.9"/>
<circle cx="92.39" cy="237.15" r="1.90" fill="#ff6a40" stroke="#f41400" stroke-width="0.9"/>
<circle cx="94.68" cy="237.67" r="1.90" fill="#ff6a40" stroke="#f41400" stroke-width="0.9"/>
<circle cx="96.97" cy="238.20" r="1.90" fill="#ff6a40" stroke="#f41400" stroke-width="0.9"/>
<circle cx="99.26" cy="238.72" r="1.90" fill="#ff6a40" stroke="#f41400" stroke-width="0.9"/>
<circle cx="101.55" cy="239.24" r="1.90" fill="#ff6a40" stroke="#f41400" stroke-width="0.9"/>
<circle cx="103.84" cy="239.76" r="1.90" fill="#ff6a40" stroke="#f41400" stroke-width="0.9"/>
<circle cx="106.13" cy="240.29" r="1.90" fill="#ff6a40" stroke="#f41400" stroke-width="0.9"/>
<circle cx="108.42" cy="240.81" r="1.90" fill="#ff6a40" stroke="#f41400" stroke-width="0.9"/>
<circle cx="110.71" cy="241.33" r="1.90" fill="#ff6a40" stroke="#f41400" stroke-width="0.9"/>
<circle cx="113.00" cy="241.85" r="1.90" fill="#ff6a40" stroke="#f41400" stroke-width="0.9"/>
<circle cx="115.29" cy="242.38" r="1.90" fill="#ff6a40" stroke="#f41400" stroke-width="0.9"/>
<circle cx="117.58" cy="242.90" r="1.90" fill="#ff6a40" stroke="#f41400" stroke-width="0.9"/>
<circle cx="119.87" cy="243.42" r="1.90" fill="#ff6a40" stroke="#f41400" stroke-width="0.9"/>
<circle cx="122.16" cy="243.95" r="1.90" fill="#ff6a40" stroke="#f41400" stroke-width="0.9"/>
<circle cx="124.45" cy="244.45" r="1.90" fill="#ff6a40" stroke="#f41400" stroke-width="0.9"/>
<circle cx="126.74" cy="244.84" r="1.90" fill="#ff6a40" stroke="#f41400" stroke-width="0.9"/>
<circle cx="129.03" cy="245.22" r="1.90" fill="#ff6a40" stroke="#f41400" stroke-width="0.9"/>
<circle cx="131.32" cy="245.60" r="1.90" fill="#ff6a40" stroke="#f41400" stroke-width="0.9"/>
<circle cx="133.61" cy="245.98" r="1.90" fill="#ff6a40" stroke="#f41400" stroke-width="0.9"/>
<circle cx="135.90" cy="246.36" r="1.90" fill="#ff6a40" stroke="#f41400" stroke-width="0.9"/>
<circle cx="138.19" cy="246.74" r="1.90" fill="#ff6a40" stroke="#f41400" stroke-width="0.9"/>
<circle cx="140.48" cy="247.12" r="1.90" fill="#ff6a40" stroke="#f41400" stroke-width="0.9"/>
<circle cx="142.77" cy="247.50" r="1.90" fill="#ff6a40" stroke="#f41400" stroke-width="0.9"/>
<circle cx="145.06" cy="247.88" r="1.90" fill="#ff6a40" stroke="#f41400" stroke-width="0.9"/>
<circle cx="147.35" cy="248.26" r="1.90" fill="#ff6a40" stroke="#f41400" stroke-width="0.9"/>
<circle cx="149.64" cy="248.64" r="1.90" fill="#ff6a40" stroke="#f41400" stroke-width="0.9"/>
<circle cx="151.93" cy="249.02" r="1.90" fill="#ff6a40" stroke="#f41400" stroke-width="0.9"/>
<circle cx="154.22" cy="249.41" r="1.90" fill="#ff6a40" stroke="#f41400" stroke-width="0.9"/>
<circle cx="156.51" cy="249.79" r="1.90" fill="#ff6a40" stroke="#f41400" stroke-width="0.9"/>
<circle cx="158.80" cy="250.17" r="1.90" fill="#ff6a40" stroke="#f41400" stroke-width="0.9"/>
<circle cx="161.09" cy="250.53" r="1.90" fill="#ff6a40" stroke="#f41400" stroke-width="0.9"/>
<circle cx="163.38" cy="250.86" r="1.90" fill="#ff6a40" stroke="#f41400" stroke-width="0.9"/>
<circle cx="165.67" cy="251.18" r="1.90" fill="#ff6a40" stroke="#f41400" stroke-width="0.9"/>
<circle cx="167.96" cy="251.51" r="1.90" fill="#ff6a40" stroke="#f41400" stroke-width="0.9"/>
<circle cx="170.25" cy="251.84" r="1.90" fill="#ff6a40" stroke="#f41400" stroke-width="0.9"/>
<circle cx="172.54" cy="252.17" r="1.90" fill="#ff6a40" stroke="#f41400" stroke-width="0.9"/>
<circle cx="174.83" cy="252.50" r="1.90" fill="#ff6a40" stroke="#f41400" stroke-width="0.9"/>
<circle cx="177.12" cy="252.83" r="1.90" fill="#ff6a40" stroke="#f41400" stroke-width="0.9"/>
<circle cx="179.41" cy="253.15" r="1.90" fill="#ff6a40" stroke="#f41400" stroke-width="0.9"/>
<circle cx="181.70" cy="253.48" r="1.90" fill="#ff6a40" stroke="#f41400" stroke-width="0.9"/>
<circle cx="183.99" cy="253.81" r="1.90" fill="#ff6a40" stroke="#f41400" stroke-width="0.9"/>
<circle cx="186.28" cy="254.12" r="1.90" fill="#ff6a40" stroke="#f41400" stroke-width="0.9"/>
<circle cx="188.57" cy="254.42" r="1.90" fill="#ff6a40" stroke="#f41400" stroke-width="0.9"/>
<circle cx="190.86" cy="254.72" r="1.90" fill="#ff6a40" stroke="#f41400" stroke-width="0.9"/>
<circle cx="193.15" cy="255.03" r="1.90" fill="#ff6a40" stroke="#f41400" stroke-width="0.9"/>
<circle cx="195.44" cy="255.33" r="1.90" fill="#ff6a40" stroke="#f41400" stroke-width="0.9"/>
<circle cx="197.73" cy="255.63" r="1.90" fill="#ff6a40" stroke="#f41400" stroke-width="0.9"/>
<circle cx="200.02" cy="255.94" r="1.90" fill="#ff6a40" stroke="#f41400" stroke-width="0.9"/>
<circle cx="202.31" cy="256.24" r="1.90" fill="#ff6a40" stroke="#f41400" stroke-width="0.9"/>
<circle cx="204.60" cy="256.54" r="1.90" fill="#ff6a40" stroke="#f41400" stroke-width="0.9"/>
<circle cx="206.89" cy="256.85" r="1.90" fill="#ff6a40" stroke="#f41400" stroke-width="0.9"/>
<circle cx="209.18" cy="257.15" r="1.90" fill="#ff6a40" stroke="#f41400" stroke-width="0.9"/>
<circle cx="211.47" cy="257.45" r="1.90" fill="#ff6a40" stroke="#f41400" stroke-width="0.9"/>
<circle cx="213.76" cy="257.76" r="1.90" fill="#ff6a40" stroke="#f41400" stroke-width="0.9"/>
<circle cx="216.05" cy="258.06" r="1.90" fill="#ff6a40" stroke="#f41400" stroke-width="0.9"/>
<circle cx="218.34" cy="258.36" r="1.90" fill="#ff6a40" stroke="#f41400" stroke-width="0.9"/>
<circle cx="220.63" cy="258.67" r="1.90" fill="#ff6a40" stroke="#f41400" stroke-width="0.9"/>
<circle cx="222.92" cy="258.97" r="1.90" fill="#ff6a40" stroke="#f41400" stroke-width="0.9"/>
<circle cx="225.21" cy="259.27" r="1.90" fill="#ff6a40" stroke="#f41400" stroke-width="0.9"/>
<circle cx="227.50" cy="259.58" r="1.90" fill="#ff6a40" stroke="#f41400" stroke-width="0.9"/>
<circle cx="229.79" cy="259.88" r="1.90" fill="#ff6a40" stroke="#f41400" stroke-width="0.9"/>
<circle cx="232.08" cy="260.18" r="1.90" fill="#ff6a40" stroke="#f41400" stroke-width="0.9"/>
<circle cx="234.37" cy="260.49" r="1.90" fill="#ff6a40" stroke="#f41400" stroke-width="0.9"/>
<circle cx="236.66" cy="260.79" r="1.90" fill="#ff6a40" stroke="#f41400" stroke-width="0.9"/>
<circle cx="238.95" cy="261.09" r="1.90" fill="#ff6a40" stroke="#f41400" stroke-width="0.9"/>
<circle cx="241.24" cy="261.40" r="1.90" fill="#ff6a40" stroke="#f41400" stroke-width="0.9"/>
<circle cx="243.53" cy="261.70" r="1.90" fill="#ff6a40" stroke="#f41400" stroke-width="0.9"/>
<circle cx="245.82" cy="262.00" r="1.90" fill="#ff6a40" stroke="#f41400" stroke-width="0.9"/>
<circle cx="248.11" cy="262.29" r="1.90" fill="#ff6a40" stroke="#f41400" stroke-width="0.9"/>
<circle cx="250.40" cy="262.58" r="1.90" fill="#ff6a40" stroke="#f41400" stroke-width="0.9"/>
<circle cx="252.69" cy="262.87" r="1.90" fill="#ff6a40" stroke="#f41400" stroke-width="0.9"/>
<circle cx="254.98" cy="263.16" r="1.90" fill="#ff6a40" stroke="#f41400" stroke-width="0.9"/>
<circle cx="257.27" cy="263.45" r="1.90" fill="#ff6a40" stroke="#f41400" stroke-width="0.9"/>
<circle cx="259.56" cy="263.74" r="1.90" fill="#ff6a40" stroke="#f41400" stroke-width="0.9"/>
<circle cx="261.85" cy="264.04" r="1.90" fill="#ff6a40" stroke="#f41400" stroke-width="0.9"/>
<circle cx="264.14" cy="264.33" r="1.90" fill="#ff6a40" stroke="#f41400" stroke-width="0.9"/>
<circle cx="266.43" cy="264.62" r="1.90" fill="#ff6a40" stroke="#f41400" stroke-width="0.9"/>
<circle cx="268.72" cy="264.91" r="1.90" fill="#ff6a40" stroke="#f41400" stroke-width="0.9"/>
<circle cx="271.01" cy="265.20" r="1.90" fill="#ff6a40" stroke="#f41400" stroke-width="0.9"/>
<circle cx="273.30" cy="265.49" r="1.90" fill="#ff6a40" stroke="#f41400" stroke-width="0.9"/>
<circle cx="275.59" cy="265.78" r="1.90" fill="#ff6a40" stroke="#f41400" stroke-width="0.9"/>
<circle cx="277.88" cy="266.07" r="1.90" fill="#ff6a40" stroke="#f41400" stroke-width="0.9"/>
<circle cx="280.17" cy="266.37" r="1.90" fill="#ff6a40" stroke="#f41400" stroke-width="0.9"/>
<circle cx="282.46" cy="266.66" r="1.90" fill="#ff6a40" stroke="#f41400" stroke-width="0.9"/>
<circle cx="284.75" cy="266.95" r="1.90" fill="#ff6a40" stroke="#f41400" stroke-width="0.9"/>
<circle cx="287.04" cy="267.24" r="1.90" fill="#ff6a40" stroke="#f41400" stroke-width="0.9"/>
<circle cx="289.33" cy="267.53" r="1.90" fill="#ff6a40" stroke="#f41400" stroke-width="0.9"/>
<circle cx="291.62" cy="267.82" r="1.90" fill="#ff6a40" stroke="#f41400" stroke-width="0.9"/>
<circle cx="293.91" cy="268.11" r="1.90" fill="#ff6a40" stroke="#f41400" stroke-width="0.9"/>
<circle cx="296.20" cy="268.41" r="1.90" fill="#ff6a40" stroke="#f41400" stroke-width="0.9"/>
<polygon points="69.49,233.11 67.19,229.11 71.79,229.11" fill="#f2b4f0" stroke="#cc44cc" stroke-width="0.6" stroke-linejoin="miter"/>
<polygon points="71.78,233.53 69.48,229.53 74.08,229.53" fill="#f2b4f0" stroke="#cc44cc" stroke-width="0.6" stroke-linejoin="miter"/>
<polygon points="74.07,233.96 71.77,229.96 76.37,229.96" fill="#f2b4f0" stroke="#cc44cc" stroke-width="0.6" stroke-linejoin="miter"/>
<polygon points="76.36,234.38 74.06,230.38 78.66,230.38" fill="#f2b4f0" stroke="#cc44cc" stroke-width="0.6" stroke-linejoin="miter"/>
<polygon points="78.65,234.81 76.35,230.81 80.95,230.81" fill="#f2b4f0" stroke="#cc44cc" stroke-width="0.6" stroke-linejoin="miter"/>
<polygon points="80.94,235.23 78.64,231.23 83.24,231.23" fill="#f2b4f0" stroke="#cc44cc" stroke-width="0.6" stroke-linejoin="miter"/>
<polygon points="83.23,235.65 80.93,231.65 85.53,231.65" fill="#f2b4f0" stroke="#cc44cc" stroke-width="0.6" stroke-linejoin="miter"/>
<polygon points="85.52,236.08 83.22,232.08 87.82,232.08" fill="#f2b4f0" stroke="#cc44cc" stroke-width="0.6" stroke-linejoin="miter"/>
<polygon points="87.81,236.50 85.51,232.50 90.11,232.50" fill="#f2b4f0" stroke="#cc44cc" stroke-width="0.6" stroke-linejoin="miter"/>
<polygon points="90.10,236.92 87.80,232.92 92.40,232.92" fill="#f2b4f0" stroke="#cc44cc" stroke-width="0.6" stroke-linejoin="miter"/>
<polygon points="92.39,237.35 90.09,233.35 94.69,233.35" fill="#f2b4f0" stroke="#cc44cc" stroke-width="0.6" stroke-linejoin="miter"/>
<polygon points="94.68,237.77 92.38,233.77 96.98,233.77" fill="#f2b4f0" stroke="#cc44cc" stroke-width="0.6" stroke-linejoin="miter"/>
<polygon points="96.97,238.20 94.67,234.20 99.27,234.20" fill="#f2b4f0" stroke="#cc44cc" stroke-width="0.6" stroke-linejoin="miter"/>
<polygon points="99.26,238.62 96.96,234.62 101.56,234.62" fill="#f2b4f0" stroke="#cc44cc" stroke-width="0.6" stroke-linejoin="miter"/>
<polygon points="101.55,239.04 99.25,235.04 103.85,235.04" fill="#f2b4f0" stroke="#cc44cc" stroke-width="0.6" stroke-linejoin="miter"/>
<polygon points="103.84,239.47 101.54,235.47 106.14,235.47" fill="#f2b4f0" stroke="#cc44cc" stroke-width="0.6" stroke-linejoin="miter"/>
<polygon points="106.13,239.89 103.83,235.89 108.43,235.89" fill="#f2b4f0" stroke="#cc44cc" stroke-width="0.6" stroke-linejoin="miter"/>
<polygon points="108.42,240.32 106.12,236.32 110.72,236.32" fill="#f2b4f0" stroke="#cc44cc" stroke-width="0.6" stroke-linejoin="miter"/>
<polygon points="110.71,240.74 108.41,236.74 113.01,236.74" fill="#f2b4f0" stroke="#cc44cc" stroke-width="0.6" stroke-linejoin="miter"/>
<polygon points="113.00,241.16 110.70,237.16 115.30,237.16" fill="#f2b4f0" stroke="#cc44cc" stroke-width="0.6" stroke-linejoin="miter"/>
<polygon points="115.29,241.59 112.99,237.59 117.59,237.59" fill="#f2b4f0" stroke="#cc44cc" stroke-width="0.6" stroke-linejoin="miter"/>
<polygon points="117.58,242.01 115.28,238.01 119.88,238.01" fill="#f2b4f0" stroke="#cc44cc" stroke-width="0.6" stroke-linejoin="miter"/>
<polygon points="119.87,242.43 117.57,238.43 122.17,238.43" fill="#f2b4f0" stroke="#cc44cc" stroke-width="0.6" stroke-linejoin="miter"/>
<polygon points="122.16,242.86 119.86,238.86 124.46,238.86" fill="#f2b4f0" stroke="#cc44cc" stroke-width="0.6" stroke-linejoin="miter"/>
<polygon points="124.45,243.28 122.15,239.28 126.75,239.28" fill="#f2b4f0" stroke="#cc44cc" stroke-width="0.6" stroke-linejoin="miter"/>
<polygon points="126.74,243.67 124.44,239.67 129.04,239.67" fill="#f2b4f0" stroke="#cc44cc" stroke-width="0.6" stroke-linejoin="miter"/>
<polygon points="129.03,244.07 126.73,240.07 131.33,240.07" fill="#f2b4f0" stroke="#cc44cc" stroke-width="0.6" stroke-linejoin="miter"/>
<polygon points="131.32,244.46 129.02,240.46 133.62,240.46" fill="#f2b4f0" stroke="#cc44cc" stroke-width="0.6" stroke-linejoin="miter"/>
<polygon points="133.61,244.86 131.31,240.86 135.91,240.86" fill="#f2b4f0" stroke="#cc44cc" stroke-width="0.6" stroke-linejoin="miter"/>
<polygon points="135.90,245.25 133.60,241.25 138.20,241.25" fill="#f2b4f0" stroke="#cc44cc" stroke-width="0.6" stroke-linejoin="miter"/>
<polygon points="138.19,245.64 135.89,241.64 140.49,241.64" fill="#f2b4f0" stroke="#cc44cc" stroke-width="0.6" stroke-linejoin="miter"/>
<polygon points="140.48,246.04 138.18,242.04 142.78,242.04" fill="#f2b4f0" stroke="#cc44cc" stroke-width="0.6" stroke-linejoin="miter"/>
<polygon points="142.77,246.43 140.47,242.43 145.07,242.43" fill="#f2b4f0" stroke="#cc44cc" stroke-width="0.6" stroke-linejoin="miter"/>
<polygon points="145.06,246.83 142.76,242.83 147.36,242.83" fill="#f2b4f0" stroke="#cc44cc" stroke-width="0.6" stroke-linejoin="miter"/>
<polygon points="147.35,247.22 145.05,243.22 149.65,243.22" fill="#f2b4f0" stroke="#cc44cc" stroke-width="0.6" stroke-linejoin="miter"/>
<polygon points="149.64,247.62 147.34,243.62 151.94,243.62" fill="#f2b4f0" stroke="#cc44cc" stroke-width="0.6" stroke-linejoin="miter"/>
<polygon points="151.93,248.01 149.63,244.01 154.23,244.01" fill="#f2b4f0" stroke="#cc44cc" stroke-width="0.6" stroke-linejoin="miter"/>
<polygon points="154.22,248.40 151.92,244.40 156.52,244.40" fill="#f2b4f0" stroke="#cc44cc" stroke-width="0.6" stroke-linejoin="miter"/>
<polygon points="156.51,248.80 154.21,244.80 158.81,244.80" fill="#f2b4f0" stroke="#cc44cc" stroke-width="0.6" stroke-linejoin="miter"/>
<polygon points="158.80,249.19 156.50,245.19 161.10,245.19" fill="#f2b4f0" stroke="#cc44cc" stroke-width="0.6" stroke-linejoin="miter"/>
<polygon points="161.09,249.53 158.79,245.53 163.39,245.53" fill="#f2b4f0" stroke="#cc44cc" stroke-width="0.6" stroke-linejoin="miter"/>
<polygon points="163.38,249.78 161.08,245.78 165.68,245.78" fill="#f2b4f0" stroke="#cc44cc" stroke-width="0.6" stroke-linejoin="miter"/>
<polygon points="165.67,250.03 163.37,246.03 167.97,246.03" fill="#f2b4f0" stroke="#cc44cc" stroke-width="0.6" stroke-linejoin="miter"/>
<polygon points="167.96,250.27 165.66,246.27 170.26,246.27" fill="#f2b4f0" stroke="#cc44cc" stroke-width="0.6" stroke-linejoin="miter"/>
<polygon points="170.25,250.52 167.95,246.52 172.55,246.52" fill="#f2b4f0" stroke="#cc44cc" stroke-width="0.6" stroke-linejoin="miter"/>
<polygon points="172.54,250.77 170.24,246.77 174.84,246.77" fill="#f2b4f0" stroke="#cc44cc" stroke-width="0.6" stroke-linejoin="miter"/>
<polygon points="174.83,251.02 172.53,247.02 177.13,247.02" fill="#f2b4f0" stroke="#cc44cc" stroke-width="0.6" stroke-linejoin="miter"/>
<polygon points="177.12,251.26 174.82,247.26 179.42,247.26" fill="#f2b4f0" stroke="#cc44cc" stroke-width="0.6" stroke-linejoin="miter"/>
<polygon points="179.41,251.51 177.11,247.51 181.71,247.51" fill="#f2b4f0" stroke="#cc44cc" stroke-width="0.6" stroke-linejoin="miter"/>
<polygon points="181.70,251.76 179.40,247.76 184.00,247.76" fill="#f2b4f0" stroke="#cc44cc" stroke-width="0.6" stroke-linejoin="miter"/>
<polygon points="183.99,252.01 181.69,248.01 186.29,248.01" fill="#f2b4f0" stroke="#cc44cc" stroke-width="0.6" stroke-linejoin="miter"/>
<polygon points="186.28,252.29 183.98,248.29 188.58,248.29" fill="#f2b4f0" stroke="#cc44cc" stroke-width="0.6" stroke-linejoin="miter"/>
<polygon points="188.57,252.58 186.27,248.58 190.87,248.58" fill="#f2b4f0" stroke="#cc44cc" stroke-width="0.6" stroke-linejoin="miter"/>
<polygon points="190.86,252.87 188.56,248.87 193.16,248.87" fill="#f2b4f0" stroke="#cc44cc" stroke-width="0.6" stroke-linejoin="miter"/>
<polygon points="193.15,253.15 190.85,249.15 195.45,249.15" fill="#f2b4f0" stroke="#cc44cc" stroke-width="0.6" stroke-linejoin="miter"/>
<polygon points="195.44,253.44 193.14,249.44 197.74,249.44" fill="#f2b4f0" stroke="#cc44cc" stroke-width="0.6" stroke-linejoin="miter"/>
<polygon points="197.73,253.73 195.43,249.73 200.03,249.73" fill="#f2b4f0" stroke="#cc44cc" stroke-width="0.6" stroke-linejoin="miter"/>
<polygon points="200.02,254.02 197.72,250.02 202.32,250.02" fill="#f2b4f0" stroke="#cc44cc" stroke-width="0.6" stroke-linejoin="miter"/>
<polygon points="202.31,254.30 200.01,250.30 204.61,250.30" fill="#f2b4f0" stroke="#cc44cc" stroke-width="0.6" stroke-linejoin="miter"/>
<polygon points="204.60,254.59 202.30,250.59 206.90,250.59" fill="#f2b4f0" stroke="#cc44cc" stroke-width="0.6" stroke-linejoin="miter"/>
<polygon points="206.89,254.88 204.59,250.88 209.19,250.88" fill="#f2b4f0" stroke="#cc44cc" stroke-width="0.6" stroke-linejoin="miter"/>
<polygon points="209.18,255.16 206.88,251.16 211.48,251.16" fill="#f2b4f0" stroke="#cc44cc" stroke-width="0.6" stroke-linejoin="miter"/>
<polygon points="211.47,255.45 209.17,251.45 213.77,251.45" fill="#f2b4f0" stroke="#cc44cc" stroke-width="0.6" stroke-linejoin="miter"/>
<polygon points="213.76,255.74 211.46,251.74 216.06,251.74" fill="#f2b4f0" stroke="#cc44cc" stroke-width="0.6" stroke-linejoin="miter"/>
<polygon points="216.05,256.03 213.75,252.03 218.35,252.03" fill="#f2b4f0" stroke="#cc44cc" stroke-width="0.6" stroke-linejoin="miter"/>
<polygon points="218.34,256.31 216.04,252.31 220.64,252.31" fill="#f2b4f0" stroke="#cc44cc" stroke-width="0.6" stroke-linejoin="miter"/>
<polygon points="220.63,256.60 218.33,252.60 222.93,252.60" fill="#f2b4f0" stroke="#cc44cc" stroke-width="0.6" stroke-linejoin="miter"/>
<polygon points="222.92,256.89 220.62,252.89 225.22,252.89" fill="#f2b4f0" stroke="#cc44cc" stroke-width="0.6" stroke-linejoin="miter"/>
<polygon points="225.21,257.18 222.91,253.18 227.51,253.18" fill="#f2b4f0" stroke="#cc44cc" stroke-width="0.6" stroke-linejoin="miter"/>
<polygon points="227.50,257.46 225.20,253.46 229.80,253.46" fill="#f2b4f0" stroke="#cc44cc" stroke-width="0.6" stroke-linejoin="miter"/>
<polygon points="229.79,257.75 227.49,253.75 232.09,253.75" fill="#f2b4f0" stroke="#cc44cc" stroke-width="0.6" stroke-linejoin="miter"/>
<polygon points="232.08,258.04 229.78,254.04 234.38,254.04" fill="#f2b4f0" stroke="#cc44cc" stroke-width="0.6" stroke-linejoin="miter"/>
<polygon points="234.37,258.33 232.07,254.33 236.67,254.33" fill="#f2b4f0" stroke="#cc44cc" stroke-width="0.6" stroke-linejoin="miter"/>
<polygon points="236.66,258.61 234.36,254.61 238.96,254.61" fill="#f2b4f0" stroke="#cc44cc" stroke-width="0.6" stroke-linejoin="miter"/>
<polygon points="238.95,258.90 236.65,254.90 241.25,254.90" fill="#f2b4f0" stroke="#cc44cc" stroke-width="0.6" stroke-linejoin="miter"/>
<polygon points="241.24,259.19 238.94,255.19 243.54,255.19" fill="#f2b4f0" stroke="#cc44cc" stroke-width="0.6" stroke-linejoin="miter"/>
<polygon points="243.53,259.47 241.23,255.47 245.83,255.47" fill="#f2b4f0" stroke="#cc44cc" stroke-width="0.6" stroke-linejoin="miter"/>
<polygon points="245.82,259.71 243.52,255.71 248.12,255.71" fill="#f2b4f0" stroke="#cc44cc" stroke-width="0.6" stroke-linejoin="miter"/>
<polygon points="248.11,259.93 245.81,255.93 250.41,255.93" fill="#f2b4f0" stroke="#cc44cc" stroke-width="0.6" stroke-linejoin="miter"/>
<polygon points="250.40,260.15 248.10,256.15 252.70,256.15" fill="#f2b4f0" stroke="#cc44cc" stroke-width="0.6" stroke-linejoin="miter"/>
<polygon points="252.69,260.36 250.39,256.36 254.99,256.36" fill="#f2b4f0" stroke="#cc44cc" stroke-width="0.6" stroke-linejoin="miter"/>
<polygon points="254.98,260.58 252.68,256.58 257.28,256.58" fill="#f2b4f0" stroke="#cc44cc" stroke-width="0.6" stroke-linejoin="miter"/>
<polygon points="257.27,260.80 254.97,256.80 259.57,256.80" fill="#f2b4f0" stroke="#cc44cc" stroke-width="0.6" stroke-linejoin="miter"/>
<polygon points="259.56,261.01 257.26,257.01 261.86,257.01" fill="#f2b4f0" stroke="#cc44cc" stroke-width="0.6" stroke-linejoin="miter"/>
<polygon points="261.85,261.23 259.55,257.23 264.15,257.23" fill="#f2b4f0" stroke="#cc44cc" stroke-width="0.6" stroke-linejoin="miter"/>
<polygon points="264.14,261.45 261.84,257.45 266.44,257.45" fill="#f2b4f0" stroke="#cc44cc" stroke-width="0.6" stroke-linejoin="miter"/>
<polygon points="266.43,261.66 264.13,257.66 268.73,257.66" fill="#f2b4f0" stroke="#cc44cc" stroke-width="0.6" stroke-linejoin="miter"/>
<polygon points="268.72,261.88 266.42,257.88 271.02,257.88" fill="#f2b4f0" stroke="#cc44cc" stroke-width="0.6" stroke-linejoin="miter"/>
<polygon points="271.01,262.10 268.71,258.10 273.31,258.10" fill="#f2b4f0" stroke="#cc44cc" stroke-width="0.6" stroke-linejoin="miter"/>
<polygon points="273.30,262.32 271.00,258.32 275.60,258.32" fill="#f2b4f0" stroke="#cc44cc" stroke-width="0.6" stroke-linejoin="miter"/>
<polygon points="275.59,262.53 273.29,258.53 277.89,258.53" fill="#f2b4f0" stroke="#cc44cc" stroke-width="0.6" stroke-linejoin="miter"/>
<polygon points="277.88,262.75 275.58,258.75 280.18,258.75" fill="#f2b4f0" stroke="#cc44cc" stroke-width="0.6" stroke-linejoin="miter"/>
<polygon points="280.17,262.97 277.87,258.97 282.47,258.97" fill="#f2b4f0" stroke="#cc44cc" stroke-width="0.6" stroke-linejoin="miter"/>
<polygon points="282.46,263.18 280.16,259.18 284.76,259.18" fill="#f2b4f0" stroke="#cc44cc" stroke-width="0.6" stroke-linejoin="miter"/>
<polygon points="284.75,263.40 282.45,259.40 287.05,259.40" fill="#f2b4f0" stroke="#cc44cc" stroke-width="0.6" stroke-linejoin="miter"/>
<polygon points="287.04,263.62 284.74,259.62 289.34,259.62" fill="#f2b4f0" stroke="#cc44cc" stroke-width="0.6" stroke-linejoin="miter"/>
<polygon points="289.33,263.83 287.03,259.83 291.63,259.83" fill="#f2b4f0" stroke="#cc44cc" stroke-width="0.6" stroke-linejoin="miter"/>
<polygon points="291.62,264.05 289.32,260.05 293.92,260.05" fill="#f2b4f0" stroke="#cc44cc" stroke-width="0.6" stroke-linejoin="miter"/>
<polygon points="293.91,264.27 291.61,260.27 296.21,260.27" fill="#f2b4f0" stroke="#cc44cc" stroke-width="0.6" stroke-linejoin="miter"/>
<polygon points="296.20,264.48 293.90,260.48 298.50,260.48" fill="#f2b4f0" stroke="#cc44cc" stroke-width="0.6" stroke-linejoin="miter"/>
<polygon points="69.49,227.20 67.19,231.00 71.79,231.00" fill="#3a86d8" stroke="#1030b8" stroke-width="0.7" stroke-linejoin="miter"/>
<polygon points="71.78,227.52 69.48,231.32 74.08,231.32" fill="#3a86d8" stroke="#1030b8" stroke-width="0.7" stroke-linejoin="miter"/>
<polygon points="74.07,227.84 71.77,231.64 76.37,231.64" fill="#3a86d8" stroke="#1030b8" stroke-width="0.7" stroke-linejoin="miter"/>
<polygon points="76.36,228.15 74.06,231.95 78.66,231.95" fill="#3a86d8" stroke="#1030b8" stroke-width="0.7" stroke-linejoin="miter"/>
<polygon points="78.65,228.47 76.35,232.27 80.95,232.27" fill="#3a86d8" stroke="#1030b8" stroke-width="0.7" stroke-linejoin="miter"/>
<polygon points="80.94,228.79 78.64,232.59 83.24,232.59" fill="#3a86d8" stroke="#1030b8" stroke-width="0.7" stroke-linejoin="miter"/>
<polygon points="83.23,229.10 80.93,232.90 85.53,232.90" fill="#3a86d8" stroke="#1030b8" stroke-width="0.7" stroke-linejoin="miter"/>
<polygon points="85.52,229.42 83.22,233.22 87.82,233.22" fill="#3a86d8" stroke="#1030b8" stroke-width="0.7" stroke-linejoin="miter"/>
<polygon points="87.81,229.74 85.51,233.54 90.11,233.54" fill="#3a86d8" stroke="#1030b8" stroke-width="0.7" stroke-linejoin="miter"/>
<polygon points="90.10,230.05 87.80,233.85 92.40,233.85" fill="#3a86d8" stroke="#1030b8" stroke-width="0.7" stroke-linejoin="miter"/>
<polygon points="92.39,230.37 90.09,234.17 94.69,234.17" fill="#3a86d8" stroke="#1030b8" stroke-width="0.7" stroke-linejoin="miter"/>
<polygon points="94.68,230.68 92.38,234.48 96.98,234.48" fill="#3a86d8" stroke="#1030b8" stroke-width="0.7" stroke-linejoin="miter"/>
<polygon points="96.97,231.00 94.67,234.80 99.27,234.80" fill="#3a86d8" stroke="#1030b8" stroke-width="0.7" stroke-linejoin="miter"/>
<polygon points="99.26,231.32 96.96,235.12 101.56,235.12" fill="#3a86d8" stroke="#1030b8" stroke-width="0.7" stroke-linejoin="miter"/>
<polygon points="101.55,231.63 99.25,235.43 103.85,235.43" fill="#3a86d8" stroke="#1030b8" stroke-width="0.7" stroke-linejoin="miter"/>
<polygon points="103.84,231.95 101.54,235.75 106.14,235.75" fill="#3a86d8" stroke="#1030b8" stroke-width="0.7" stroke-linejoin="miter"/>
<polygon points="106.13,232.27 103.83,236.07 108.43,236.07" fill="#3a86d8" stroke="#1030b8" stroke-width="0.7" stroke-linejoin="miter"/>
<polygon points="108.42,232.58 106.12,236.38 110.72,236.38" fill="#3a86d8" stroke="#1030b8" stroke-width="0.7" stroke-linejoin="miter"/>
<polygon points="110.71,232.90 108.41,236.70 113.01,236.70" fill="#3a86d8" stroke="#1030b8" stroke-width="0.7" stroke-linejoin="miter"/>
<polygon points="113.00,233.22 110.70,237.02 115.30,237.02" fill="#3a86d8" stroke="#1030b8" stroke-width="0.7" stroke-linejoin="miter"/>
<polygon points="115.29,233.53 112.99,237.33 117.59,237.33" fill="#3a86d8" stroke="#1030b8" stroke-width="0.7" stroke-linejoin="miter"/>
<polygon points="117.58,233.85 115.28,237.65 119.88,237.65" fill="#3a86d8" stroke="#1030b8" stroke-width="0.7" stroke-linejoin="miter"/>
<polygon points="119.87,234.17 117.57,237.97 122.17,237.97" fill="#3a86d8" stroke="#1030b8" stroke-width="0.7" stroke-linejoin="miter"/>
<polygon points="122.16,234.48 119.86,238.28 124.46,238.28" fill="#3a86d8" stroke="#1030b8" stroke-width="0.7" stroke-linejoin="miter"/>
<polygon points="124.45,234.79 122.15,238.59 126.75,238.59" fill="#3a86d8" stroke="#1030b8" stroke-width="0.7" stroke-linejoin="miter"/>
<polygon points="126.74,235.03 124.44,238.83 129.04,238.83" fill="#3a86d8" stroke="#1030b8" stroke-width="0.7" stroke-linejoin="miter"/>
<polygon points="129.03,235.27 126.73,239.07 131.33,239.07" fill="#3a86d8" stroke="#1030b8" stroke-width="0.7" stroke-linejoin="miter"/>
<polygon points="131.32,235.52 129.02,239.32 133.62,239.32" fill="#3a86d8" stroke="#1030b8" stroke-width="0.7" stroke-linejoin="miter"/>
<polygon points="133.61,235.76 131.31,239.56 135.91,239.56" fill="#3a86d8" stroke="#1030b8" stroke-width="0.7" stroke-linejoin="miter"/>
<polygon points="135.90,236.00 133.60,239.80 138.20,239.80" fill="#3a86d8" stroke="#1030b8" stroke-width="0.7" stroke-linejoin="miter"/>
<polygon points="138.19,236.24 135.89,240.04 140.49,240.04" fill="#3a86d8" stroke="#1030b8" stroke-width="0.7" stroke-linejoin="miter"/>
<polygon points="140.48,236.48 138.18,240.28 142.78,240.28" fill="#3a86d8" stroke="#1030b8" stroke-width="0.7" stroke-linejoin="miter"/>
<polygon points="142.77,236.73 140.47,240.53 145.07,240.53" fill="#3a86d8" stroke="#1030b8" stroke-width="0.7" stroke-linejoin="miter"/>
<polygon points="145.06,236.97 142.76,240.77 147.36,240.77" fill="#3a86d8" stroke="#1030b8" stroke-width="0.7" stroke-linejoin="miter"/>
<polygon points="147.35,237.21 145.05,241.01 149.65,241.01" fill="#3a86d8" stroke="#1030b8" stroke-width="0.7" stroke-linejoin="miter"/>
<polygon points="149.64,237.45 147.34,241.25 151.94,241.25" fill="#3a86d8" stroke="#1030b8" stroke-width="0.7" stroke-linejoin="miter"/>
<polygon points="151.93,237.69 149.63,241.49 154.23,241.49" fill="#3a86d8" stroke="#1030b8" stroke-width="0.7" stroke-linejoin="miter"/>
<polygon points="154.22,237.94 151.92,241.74 156.52,241.74" fill="#3a86d8" stroke="#1030b8" stroke-width="0.7" stroke-linejoin="miter"/>
<polygon points="156.51,238.18 154.21,241.98 158.81,241.98" fill="#3a86d8" stroke="#1030b8" stroke-width="0.7" stroke-linejoin="miter"/>
<polygon points="158.80,238.42 156.50,242.22 161.10,242.22" fill="#3a86d8" stroke="#1030b8" stroke-width="0.7" stroke-linejoin="miter"/>
<polygon points="161.09,238.65 158.79,242.45 163.39,242.45" fill="#3a86d8" stroke="#1030b8" stroke-width="0.7" stroke-linejoin="miter"/>
<polygon points="163.38,238.86 161.08,242.66 165.68,242.66" fill="#3a86d8" stroke="#1030b8" stroke-width="0.7" stroke-linejoin="miter"/>
<polygon points="165.67,239.06 163.37,242.86 167.97,242.86" fill="#3a86d8" stroke="#1030b8" stroke-width="0.7" stroke-linejoin="miter"/>
<polygon points="167.96,239.27 165.66,243.07 170.26,243.07" fill="#3a86d8" stroke="#1030b8" stroke-width="0.7" stroke-linejoin="miter"/>
<polygon points="170.25,239.48 167.95,243.28 172.55,243.28" fill="#3a86d8" stroke="#1030b8" stroke-width="0.7" stroke-linejoin="miter"/>
<polygon points="172.54,239.69 170.24,243.49 174.84,243.49" fill="#3a86d8" stroke="#1030b8" stroke-width="0.7" stroke-linejoin="miter"/>
<polygon points="174.83,239.89 172.53,243.69 177.13,243.69" fill="#3a86d8" stroke="#1030b8" stroke-width="0.7" stroke-linejoin="miter"/>
<polygon points="177.12,240.10 174.82,243.90 179.42,243.90" fill="#3a86d8" stroke="#1030b8" stroke-width="0.7" stroke-linejoin="miter"/>
<polygon points="179.41,240.31 177.11,244.11 181.71,244.11" fill="#3a86d8" stroke="#1030b8" stroke-width="0.7" stroke-linejoin="miter"/>
<polygon points="181.70,240.52 179.40,244.32 184.00,244.32" fill="#3a86d8" stroke="#1030b8" stroke-width="0.7" stroke-linejoin="miter"/>
<polygon points="183.99,240.73 181.69,244.53 186.29,244.53" fill="#3a86d8" stroke="#1030b8" stroke-width="0.7" stroke-linejoin="miter"/>
<polygon points="186.28,240.94 183.98,244.74 188.58,244.74" fill="#3a86d8" stroke="#1030b8" stroke-width="0.7" stroke-linejoin="miter"/>
<polygon points="188.57,241.16 186.27,244.96 190.87,244.96" fill="#3a86d8" stroke="#1030b8" stroke-width="0.7" stroke-linejoin="miter"/>
<polygon points="190.86,241.38 188.56,245.18 193.16,245.18" fill="#3a86d8" stroke="#1030b8" stroke-width="0.7" stroke-linejoin="miter"/>
<polygon points="193.15,241.59 190.85,245.39 195.45,245.39" fill="#3a86d8" stroke="#1030b8" stroke-width="0.7" stroke-linejoin="miter"/>
<polygon points="195.44,241.81 193.14,245.61 197.74,245.61" fill="#3a86d8" stroke="#1030b8" stroke-width="0.7" stroke-linejoin="miter"/>
<polygon points="197.73,242.03 195.43,245.83 200.03,245.83" fill="#3a86d8" stroke="#1030b8" stroke-width="0.7" stroke-linejoin="miter"/>
<polygon points="200.02,242.25 197.72,246.05 202.32,246.05" fill="#3a86d8" stroke="#1030b8" stroke-width="0.7" stroke-linejoin="miter"/>
<polygon points="202.31,242.46 200.01,246.26 204.61,246.26" fill="#3a86d8" stroke="#1030b8" stroke-width="0.7" stroke-linejoin="miter"/>
<polygon points="204.60,242.68 202.30,246.48 206.90,246.48" fill="#3a86d8" stroke="#1030b8" stroke-width="0.7" stroke-linejoin="miter"/>
<polygon points="206.89,242.90 204.59,246.70 209.19,246.70" fill="#3a86d8" stroke="#1030b8" stroke-width="0.7" stroke-linejoin="miter"/>
<polygon points="209.18,243.12 206.88,246.92 211.48,246.92" fill="#3a86d8" stroke="#1030b8" stroke-width="0.7" stroke-linejoin="miter"/>
<polygon points="211.47,243.33 209.17,247.13 213.77,247.13" fill="#3a86d8" stroke="#1030b8" stroke-width="0.7" stroke-linejoin="miter"/>
<polygon points="213.76,243.55 211.46,247.35 216.06,247.35" fill="#3a86d8" stroke="#1030b8" stroke-width="0.7" stroke-linejoin="miter"/>
<polygon points="216.05,243.77 213.75,247.57 218.35,247.57" fill="#3a86d8" stroke="#1030b8" stroke-width="0.7" stroke-linejoin="miter"/>
<polygon points="218.34,243.99 216.04,247.79 220.64,247.79" fill="#3a86d8" stroke="#1030b8" stroke-width="0.7" stroke-linejoin="miter"/>
<polygon points="220.63,244.20 218.33,248.00 222.93,248.00" fill="#3a86d8" stroke="#1030b8" stroke-width="0.7" stroke-linejoin="miter"/>
<polygon points="222.92,244.42 220.62,248.22 225.22,248.22" fill="#3a86d8" stroke="#1030b8" stroke-width="0.7" stroke-linejoin="miter"/>
<polygon points="225.21,244.64 222.91,248.44 227.51,248.44" fill="#3a86d8" stroke="#1030b8" stroke-width="0.7" stroke-linejoin="miter"/>
<polygon points="227.50,244.86 225.20,248.66 229.80,248.66" fill="#3a86d8" stroke="#1030b8" stroke-width="0.7" stroke-linejoin="miter"/>
<polygon points="229.79,245.07 227.49,248.87 232.09,248.87" fill="#3a86d8" stroke="#1030b8" stroke-width="0.7" stroke-linejoin="miter"/>
<polygon points="232.08,245.29 229.78,249.09 234.38,249.09" fill="#3a86d8" stroke="#1030b8" stroke-width="0.7" stroke-linejoin="miter"/>
<polygon points="234.37,245.51 232.07,249.31 236.67,249.31" fill="#3a86d8" stroke="#1030b8" stroke-width="0.7" stroke-linejoin="miter"/>
<polygon points="236.66,245.73 234.36,249.53 238.96,249.53" fill="#3a86d8" stroke="#1030b8" stroke-width="0.7" stroke-linejoin="miter"/>
<polygon points="238.95,245.94 236.65,249.74 241.25,249.74" fill="#3a86d8" stroke="#1030b8" stroke-width="0.7" stroke-linejoin="miter"/>
<polygon points="241.24,246.16 238.94,249.96 243.54,249.96" fill="#3a86d8" stroke="#1030b8" stroke-width="0.7" stroke-linejoin="miter"/>
<polygon points="243.53,246.38 241.23,250.18 245.83,250.18" fill="#3a86d8" stroke="#1030b8" stroke-width="0.7" stroke-linejoin="miter"/>
<polygon points="245.82,246.58 243.52,250.38 248.12,250.38" fill="#3a86d8" stroke="#1030b8" stroke-width="0.7" stroke-linejoin="miter"/>
<polygon points="248.11,246.78 245.81,250.58 250.41,250.58" fill="#3a86d8" stroke="#1030b8" stroke-width="0.7" stroke-linejoin="miter"/>
<polygon points="250.40,246.98 248.10,250.78 252.70,250.78" fill="#3a86d8" stroke="#1030b8" stroke-width="0.7" stroke-linejoin="miter"/>
<polygon points="252.69,247.18 250.39,250.98 254.99,250.98" fill="#3a86d8" stroke="#1030b8" stroke-width="0.7" stroke-linejoin="miter"/>
<polygon points="254.98,247.38 252.68,251.18 257.28,251.18" fill="#3a86d8" stroke="#1030b8" stroke-width="0.7" stroke-linejoin="miter"/>
<polygon points="257.27,247.58 254.97,251.38 259.57,251.38" fill="#3a86d8" stroke="#1030b8" stroke-width="0.7" stroke-linejoin="miter"/>
<polygon points="259.56,247.77 257.26,251.57 261.86,251.57" fill="#3a86d8" stroke="#1030b8" stroke-width="0.7" stroke-linejoin="miter"/>
<polygon points="261.85,247.97 259.55,251.77 264.15,251.77" fill="#3a86d8" stroke="#1030b8" stroke-width="0.7" stroke-linejoin="miter"/>
<polygon points="264.14,248.17 261.84,251.97 266.44,251.97" fill="#3a86d8" stroke="#1030b8" stroke-width="0.7" stroke-linejoin="miter"/>
<polygon points="266.43,248.37 264.13,252.17 268.73,252.17" fill="#3a86d8" stroke="#1030b8" stroke-width="0.7" stroke-linejoin="miter"/>
<polygon points="268.72,248.57 266.42,252.37 271.02,252.37" fill="#3a86d8" stroke="#1030b8" stroke-width="0.7" stroke-linejoin="miter"/>
<polygon points="271.01,248.77 268.71,252.57 273.31,252.57" fill="#3a86d8" stroke="#1030b8" stroke-width="0.7" stroke-linejoin="miter"/>
<polygon points="273.30,248.96 271.00,252.76 275.60,252.76" fill="#3a86d8" stroke="#1030b8" stroke-width="0.7" stroke-linejoin="miter"/>
<polygon points="275.59,249.16 273.29,252.96 277.89,252.96" fill="#3a86d8" stroke="#1030b8" stroke-width="0.7" stroke-linejoin="miter"/>
<polygon points="277.88,249.36 275.58,253.16 280.18,253.16" fill="#3a86d8" stroke="#1030b8" stroke-width="0.7" stroke-linejoin="miter"/>
<polygon points="280.17,249.56 277.87,253.36 282.47,253.36" fill="#3a86d8" stroke="#1030b8" stroke-width="0.7" stroke-linejoin="miter"/>
<polygon points="282.46,249.76 280.16,253.56 284.76,253.56" fill="#3a86d8" stroke="#1030b8" stroke-width="0.7" stroke-linejoin="miter"/>
<polygon points="284.75,249.96 282.45,253.76 287.05,253.76" fill="#3a86d8" stroke="#1030b8" stroke-width="0.7" stroke-linejoin="miter"/>
<polygon points="287.04,250.15 284.74,253.95 289.34,253.95" fill="#3a86d8" stroke="#1030b8" stroke-width="0.7" stroke-linejoin="miter"/>
<polygon points="289.33,250.35 287.03,254.15 291.63,254.15" fill="#3a86d8" stroke="#1030b8" stroke-width="0.7" stroke-linejoin="miter"/>
<polygon points="291.62,250.55 289.32,254.35 293.92,254.35" fill="#3a86d8" stroke="#1030b8" stroke-width="0.7" stroke-linejoin="miter"/>
<polygon points="293.91,250.75 291.61,254.55 296.21,254.55" fill="#3a86d8" stroke="#1030b8" stroke-width="0.7" stroke-linejoin="miter"/>
<polygon points="296.20,250.95 293.90,254.75 298.50,254.75" fill="#3a86d8" stroke="#1030b8" stroke-width="0.7" stroke-linejoin="miter"/>
<rect x="67.89" y="231.58" width="3.20" height="3.20" fill="#000" stroke="#000" stroke-width="0.4"/>
<rect x="70.18" y="233.17" width="3.20" height="3.20" fill="#000" stroke="#000" stroke-width="0.4"/>
<rect x="72.47" y="234.75" width="3.20" height="3.20" fill="#000" stroke="#000" stroke-width="0.4"/>
<rect x="74.76" y="236.33" width="3.20" height="3.20" fill="#000" stroke="#000" stroke-width="0.4"/>
<rect x="77.05" y="237.92" width="3.20" height="3.20" fill="#000" stroke="#000" stroke-width="0.4"/>
<rect x="79.34" y="239.47" width="3.20" height="3.20" fill="#000" stroke="#000" stroke-width="0.4"/>
<rect x="81.63" y="241.01" width="3.20" height="3.20" fill="#000" stroke="#000" stroke-width="0.4"/>
<rect x="83.92" y="242.56" width="3.20" height="3.20" fill="#000" stroke="#000" stroke-width="0.4"/>
<rect x="86.21" y="244.11" width="3.20" height="3.20" fill="#000" stroke="#000" stroke-width="0.4"/>
<rect x="88.50" y="245.65" width="3.20" height="3.20" fill="#000" stroke="#000" stroke-width="0.4"/>
<rect x="90.79" y="247.20" width="3.20" height="3.20" fill="#000" stroke="#000" stroke-width="0.4"/>
<rect x="93.08" y="248.65" width="3.20" height="3.20" fill="#000" stroke="#000" stroke-width="0.4"/>
<rect x="95.37" y="249.76" width="3.20" height="3.20" fill="#000" stroke="#000" stroke-width="0.4"/>
<rect x="97.66" y="250.86" width="3.20" height="3.20" fill="#000" stroke="#000" stroke-width="0.4"/>
<rect x="99.95" y="251.97" width="3.20" height="3.20" fill="#000" stroke="#000" stroke-width="0.4"/>
<rect x="102.24" y="253.07" width="3.20" height="3.20" fill="#000" stroke="#000" stroke-width="0.4"/>
<rect x="104.53" y="254.17" width="3.20" height="3.20" fill="#000" stroke="#000" stroke-width="0.4"/>
<rect x="106.82" y="255.28" width="3.20" height="3.20" fill="#000" stroke="#000" stroke-width="0.4"/>
<rect x="109.11" y="256.32" width="3.20" height="3.20" fill="#000" stroke="#000" stroke-width="0.4"/>
<rect x="111.40" y="257.35" width="3.20" height="3.20" fill="#000" stroke="#000" stroke-width="0.4"/>
<rect x="113.69" y="258.37" width="3.20" height="3.20" fill="#000" stroke="#000" stroke-width="0.4"/>
<rect x="115.98" y="259.39" width="3.20" height="3.20" fill="#000" stroke="#000" stroke-width="0.4"/>
<rect x="118.27" y="260.42" width="3.20" height="3.20" fill="#000" stroke="#000" stroke-width="0.4"/>
<rect x="120.56" y="261.44" width="3.20" height="3.20" fill="#000" stroke="#000" stroke-width="0.4"/>
<rect x="122.85" y="262.43" width="3.20" height="3.20" fill="#000" stroke="#000" stroke-width="0.4"/>
<rect x="125.14" y="263.14" width="3.20" height="3.20" fill="#000" stroke="#000" stroke-width="0.4"/>
<rect x="127.43" y="263.84" width="3.20" height="3.20" fill="#000" stroke="#000" stroke-width="0.4"/>
<rect x="129.72" y="264.54" width="3.20" height="3.20" fill="#000" stroke="#000" stroke-width="0.4"/>
<rect x="132.01" y="265.25" width="3.20" height="3.20" fill="#000" stroke="#000" stroke-width="0.4"/>
<rect x="134.30" y="265.95" width="3.20" height="3.20" fill="#000" stroke="#000" stroke-width="0.4"/>
<rect x="136.59" y="266.65" width="3.20" height="3.20" fill="#000" stroke="#000" stroke-width="0.4"/>
<rect x="138.88" y="267.36" width="3.20" height="3.20" fill="#000" stroke="#000" stroke-width="0.4"/>
<rect x="141.17" y="268.06" width="3.20" height="3.20" fill="#000" stroke="#000" stroke-width="0.4"/>
<rect x="143.46" y="268.76" width="3.20" height="3.20" fill="#000" stroke="#000" stroke-width="0.4"/>
<rect x="145.75" y="269.47" width="3.20" height="3.20" fill="#000" stroke="#000" stroke-width="0.4"/>
<rect x="148.04" y="270.17" width="3.20" height="3.20" fill="#000" stroke="#000" stroke-width="0.4"/>
<rect x="150.33" y="270.87" width="3.20" height="3.20" fill="#000" stroke="#000" stroke-width="0.4"/>
<rect x="152.62" y="271.58" width="3.20" height="3.20" fill="#000" stroke="#000" stroke-width="0.4"/>
<rect x="154.91" y="272.28" width="3.20" height="3.20" fill="#000" stroke="#000" stroke-width="0.4"/>
<rect x="157.20" y="272.99" width="3.20" height="3.20" fill="#000" stroke="#000" stroke-width="0.4"/>
<rect x="159.49" y="273.62" width="3.20" height="3.20" fill="#000" stroke="#000" stroke-width="0.4"/>
<rect x="161.78" y="274.16" width="3.20" height="3.20" fill="#000" stroke="#000" stroke-width="0.4"/>
<rect x="164.07" y="274.69" width="3.20" height="3.20" fill="#000" stroke="#000" stroke-width="0.4"/>
<rect x="166.36" y="275.23" width="3.20" height="3.20" fill="#000" stroke="#000" stroke-width="0.4"/>
<rect x="168.65" y="275.77" width="3.20" height="3.20" fill="#000" stroke="#000" stroke-width="0.4"/>
<rect x="170.94" y="276.30" width="3.20" height="3.20" fill="#000" stroke="#000" stroke-width="0.4"/>
<rect x="173.23" y="276.84" width="3.20" height="3.20" fill="#000" stroke="#000" stroke-width="0.4"/>
<rect x="175.52" y="277.37" width="3.20" height="3.20" fill="#000" stroke="#000" stroke-width="0.4"/>
<rect x="177.81" y="277.91" width="3.20" height="3.20" fill="#000" stroke="#000" stroke-width="0.4"/>
<rect x="180.10" y="278.45" width="3.20" height="3.20" fill="#000" stroke="#000" stroke-width="0.4"/>
<rect x="182.39" y="278.98" width="3.20" height="3.20" fill="#000" stroke="#000" stroke-width="0.4"/>
<rect x="184.68" y="279.33" width="3.20" height="3.20" fill="#000" stroke="#000" stroke-width="0.4"/>
<rect x="186.97" y="279.65" width="3.20" height="3.20" fill="#000" stroke="#000" stroke-width="0.4"/>
<rect x="189.26" y="279.97" width="3.20" height="3.20" fill="#000" stroke="#000" stroke-width="0.4"/>
<rect x="191.55" y="280.29" width="3.20" height="3.20" fill="#000" stroke="#000" stroke-width="0.4"/>
<rect x="193.84" y="280.61" width="3.20" height="3.20" fill="#000" stroke="#000" stroke-width="0.4"/>
<rect x="196.13" y="280.94" width="3.20" height="3.20" fill="#000" stroke="#000" stroke-width="0.4"/>
<rect x="198.42" y="281.26" width="3.20" height="3.20" fill="#000" stroke="#000" stroke-width="0.4"/>
<rect x="200.71" y="281.58" width="3.20" height="3.20" fill="#000" stroke="#000" stroke-width="0.4"/>
<rect x="203.00" y="281.90" width="3.20" height="3.20" fill="#000" stroke="#000" stroke-width="0.4"/>
<rect x="205.29" y="282.23" width="3.20" height="3.20" fill="#000" stroke="#000" stroke-width="0.4"/>
<rect x="207.58" y="282.55" width="3.20" height="3.20" fill="#000" stroke="#000" stroke-width="0.4"/>
<rect x="209.87" y="282.87" width="3.20" height="3.20" fill="#000" stroke="#000" stroke-width="0.4"/>
<rect x="212.16" y="283.19" width="3.20" height="3.20" fill="#000" stroke="#000" stroke-width="0.4"/>
<rect x="214.45" y="283.51" width="3.20" height="3.20" fill="#000" stroke="#000" stroke-width="0.4"/>
<rect x="216.74" y="283.84" width="3.20" height="3.20" fill="#000" stroke="#000" stroke-width="0.4"/>
<rect x="219.03" y="284.16" width="3.20" height="3.20" fill="#000" stroke="#000" stroke-width="0.4"/>
<rect x="221.32" y="284.48" width="3.20" height="3.20" fill="#000" stroke="#000" stroke-width="0.4"/>
<rect x="223.61" y="284.80" width="3.20" height="3.20" fill="#000" stroke="#000" stroke-width="0.4"/>
<rect x="225.90" y="285.13" width="3.20" height="3.20" fill="#000" stroke="#000" stroke-width="0.4"/>
<rect x="228.19" y="285.45" width="3.20" height="3.20" fill="#000" stroke="#000" stroke-width="0.4"/>
<rect x="230.48" y="285.77" width="3.20" height="3.20" fill="#000" stroke="#000" stroke-width="0.4"/>
<rect x="232.77" y="286.09" width="3.20" height="3.20" fill="#000" stroke="#000" stroke-width="0.4"/>
<rect x="235.06" y="286.41" width="3.20" height="3.20" fill="#000" stroke="#000" stroke-width="0.4"/>
<rect x="237.35" y="286.74" width="3.20" height="3.20" fill="#000" stroke="#000" stroke-width="0.4"/>
<rect x="239.64" y="287.06" width="3.20" height="3.20" fill="#000" stroke="#000" stroke-width="0.4"/>
<rect x="241.93" y="287.38" width="3.20" height="3.20" fill="#000" stroke="#000" stroke-width="0.4"/>
<rect x="244.22" y="287.68" width="3.20" height="3.20" fill="#000" stroke="#000" stroke-width="0.4"/>
<rect x="246.51" y="287.98" width="3.20" height="3.20" fill="#000" stroke="#000" stroke-width="0.4"/>
<rect x="248.80" y="288.27" width="3.20" height="3.20" fill="#000" stroke="#000" stroke-width="0.4"/>
<rect x="251.09" y="288.57" width="3.20" height="3.20" fill="#000" stroke="#000" stroke-width="0.4"/>
<rect x="253.38" y="288.86" width="3.20" height="3.20" fill="#000" stroke="#000" stroke-width="0.4"/>
<rect x="255.67" y="289.16" width="3.20" height="3.20" fill="#000" stroke="#000" stroke-width="0.4"/>
<rect x="257.96" y="289.45" width="3.20" height="3.20" fill="#000" stroke="#000" stroke-width="0.4"/>
<rect x="260.25" y="289.74" width="3.20" height="3.20" fill="#000" stroke="#000" stroke-width="0.4"/>
<rect x="262.54" y="290.04" width="3.20" height="3.20" fill="#000" stroke="#000" stroke-width="0.4"/>
<rect x="264.83" y="290.33" width="3.20" height="3.20" fill="#000" stroke="#000" stroke-width="0.4"/>
<rect x="267.12" y="290.63" width="3.20" height="3.20" fill="#000" stroke="#000" stroke-width="0.4"/>
<rect x="269.41" y="290.92" width="3.20" height="3.20" fill="#000" stroke="#000" stroke-width="0.4"/>
<rect x="271.70" y="291.22" width="3.20" height="3.20" fill="#000" stroke="#000" stroke-width="0.4"/>
<rect x="273.99" y="291.51" width="3.20" height="3.20" fill="#000" stroke="#000" stroke-width="0.4"/>
<rect x="276.28" y="291.81" width="3.20" height="3.20" fill="#000" stroke="#000" stroke-width="0.4"/>
<rect x="278.57" y="292.10" width="3.20" height="3.20" fill="#000" stroke="#000" stroke-width="0.4"/>
<rect x="280.86" y="292.39" width="3.20" height="3.20" fill="#000" stroke="#000" stroke-width="0.4"/>
<rect x="283.15" y="292.69" width="3.20" height="3.20" fill="#000" stroke="#000" stroke-width="0.4"/>
<rect x="285.44" y="292.98" width="3.20" height="3.20" fill="#000" stroke="#000" stroke-width="0.4"/>
<rect x="287.73" y="293.28" width="3.20" height="3.20" fill="#000" stroke="#000" stroke-width="0.4"/>
<rect x="290.02" y="293.57" width="3.20" height="3.20" fill="#000" stroke="#000" stroke-width="0.4"/>
<rect x="292.31" y="293.87" width="3.20" height="3.20" fill="#000" stroke="#000" stroke-width="0.4"/>
<rect x="294.60" y="294.16" width="3.20" height="3.20" fill="#000" stroke="#000" stroke-width="0.4"/>
<rect x="90.95" y="284.45" width="9.50" height="9.50" fill="#000" stroke="#000" stroke-width="0.6"/>
<line x1="78.50" y1="308.00" x2="112.60" y2="308.00" stroke="#f01818" stroke-width="1.2"/>
<circle cx="95.60" cy="308.00" r="5.30" fill="#ff6a6a" stroke="#ee0000" stroke-width="1.1"/>
<polygon points="95.80,320.90 89.50,331.50 102.10,331.50" fill="#3a80d8" stroke="#0c28b0" stroke-width="1.1" stroke-linejoin="miter"/>
<polygon points="95.80,353.90 89.50,343.30 102.10,343.30" fill="#dc9ce0" stroke="#a828b0" stroke-width="1.1" stroke-linejoin="miter"/>
<text transform="translate(117.60,294.80) scale(1.0,1.12)" font-family='"Liberation Serif", serif' font-size="15.2" font-weight="normal" text-anchor="start" fill="#1a1a1a">Pristine</text>
<text transform="translate(117.60,314.00) scale(1.0,1.12)" font-family='"Liberation Serif", serif' font-size="15.2" font-weight="normal" text-anchor="start" fill="#1a1a1a">LBO 0.2</text>
<text transform="translate(117.60,333.30) scale(1.0,1.12)" font-family='"Liberation Serif", serif' font-size="15.2" font-weight="normal" text-anchor="start" fill="#1a1a1a">LBO 0.3</text>
<text transform="translate(117.60,352.00) scale(1.0,1.12)" font-family='"Liberation Serif", serif' font-size="15.2" font-weight="normal" text-anchor="start" fill="#1a1a1a">LBO 0.4</text>
<text transform="translate(321.30,215.80) scale(1.0,1.0)" font-family='"Liberation Sans", sans-serif' font-size="13.5" font-weight="bold" text-anchor="start" fill="#1a1a1a">(d)</text>
<line x1="398.10" y1="209.00" x2="627.10" y2="209.00" stroke="#959aa5" stroke-width="1.5"/>
<line x1="627.10" y1="208.25" x2="627.10" y2="362.90" stroke="#111" stroke-width="1.5"/>
<line x1="398.10" y1="362.90" x2="627.85" y2="362.90" stroke="#333" stroke-width="1.5"/>
<line x1="398.10" y1="208.25" x2="398.10" y2="363.65" stroke="#444" stroke-width="1.5"/>
<text transform="translate(397.80,380.20) scale(1.0,1.14)" font-family='"Liberation Serif", serif' font-size="15" font-weight="normal" text-anchor="middle" fill="#1a1a1a">0</text>
<line x1="443.20" y1="362.90" x2="443.20" y2="358.40" stroke="#444" stroke-width="1.0"/>
<text transform="translate(443.20,380.20) scale(1.0,1.14)" font-family='"Liberation Serif", serif' font-size="15" font-weight="normal" text-anchor="middle" fill="#1a1a1a">20</text>
<line x1="488.60" y1="362.90" x2="488.60" y2="358.40" stroke="#444" stroke-width="1.0"/>
<text transform="translate(488.60,380.20) scale(1.0,1.14)" font-family='"Liberation Serif", serif' font-size="15" font-weight="normal" text-anchor="middle" fill="#1a1a1a">40</text>
<line x1="534.00" y1="362.90" x2="534.00" y2="358.40" stroke="#444" stroke-width="1.0"/>
<text transform="translate(534.00,380.20) scale(1.0,1.14)" font-family='"Liberation Serif", serif' font-size="15" font-weight="normal" text-anchor="middle" fill="#1a1a1a">60</text>
<line x1="579.40" y1="362.90" x2="579.40" y2="358.40" stroke="#444" stroke-width="1.0"/>
<text transform="translate(579.40,380.20) scale(1.0,1.14)" font-family='"Liberation Serif", serif' font-size="15" font-weight="normal" text-anchor="middle" fill="#1a1a1a">80</text>
<text transform="translate(624.80,380.20) scale(1.0,1.14)" font-family='"Liberation Serif", serif' font-size="15" font-weight="normal" text-anchor="middle" fill="#1a1a1a">100</text>
<line x1="420.50" y1="362.90" x2="420.50" y2="360.30" stroke="#444" stroke-width="1.0"/>
<line x1="465.90" y1="362.90" x2="465.90" y2="360.30" stroke="#444" stroke-width="1.0"/>
<line x1="511.30" y1="362.90" x2="511.30" y2="360.30" stroke="#444" stroke-width="1.0"/>
<line x1="556.70" y1="362.90" x2="556.70" y2="360.30" stroke="#444" stroke-width="1.0"/>
<line x1="602.10" y1="362.90" x2="602.10" y2="360.30" stroke="#444" stroke-width="1.0"/>
<text transform="translate(393.00,367.80) scale(1.0,1.14)" font-family='"Liberation Serif", serif' font-size="15" font-weight="normal" text-anchor="end" fill="#1a1a1a">20</text>
<line x1="398.10" y1="324.70" x2="402.60" y2="324.70" stroke="#444" stroke-width="1.0"/>
<text transform="translate(393.00,329.70) scale(1.0,1.14)" font-family='"Liberation Serif", serif' font-size="15" font-weight="normal" text-anchor="end" fill="#1a1a1a">40</text>
<line x1="398.10" y1="286.60" x2="402.60" y2="286.60" stroke="#444" stroke-width="1.0"/>
<text transform="translate(393.00,291.60) scale(1.0,1.14)" font-family='"Liberation Serif", serif' font-size="15" font-weight="normal" text-anchor="end" fill="#1a1a1a">60</text>
<line x1="398.10" y1="248.50" x2="402.60" y2="248.50" stroke="#444" stroke-width="1.0"/>
<text transform="translate(393.00,253.50) scale(1.0,1.14)" font-family='"Liberation Serif", serif' font-size="15" font-weight="normal" text-anchor="end" fill="#1a1a1a">80</text>
<text transform="translate(393.00,215.40) scale(1.0,1.14)" font-family='"Liberation Serif", serif' font-size="15" font-weight="normal" text-anchor="end" fill="#1a1a1a">100</text>
<line x1="398.10" y1="343.75" x2="400.70" y2="343.75" stroke="#444" stroke-width="1.0"/>
<line x1="398.10" y1="305.65" x2="400.70" y2="305.65" stroke="#444" stroke-width="1.0"/>
<line x1="398.10" y1="267.55" x2="400.70" y2="267.55" stroke="#444" stroke-width="1.0"/>
<line x1="398.10" y1="229.45" x2="400.70" y2="229.45" stroke="#444" stroke-width="1.0"/>
<text transform="translate(347.60,294.25) rotate(-90) scale(1.0,0.92)" font-family='"Liberation Serif", serif' font-size="15.95" font-weight="normal" text-anchor="middle" fill="#1a1a1a">Discharge Capacity</text>
<text transform="translate(367.10,292.75) rotate(-90) scale(1.0,0.92)" font-family='"Liberation Serif", serif' font-size="15.9" font-weight="normal" text-anchor="middle" fill="#1a1a1a">Retention (%)</text>
<text transform="translate(518.00,393.80) scale(1.0,1.1)" font-family='"Liberation Serif", serif' font-size="15.6" font-weight="normal" text-anchor="middle" fill="#1a1a1a">Number of cycle</text>
<path d="M397.80,210.40 C401.58,211.51 412.93,214.78 420.50,217.07 C428.07,219.35 435.63,221.73 443.20,224.12 C450.77,226.50 458.33,229.13 465.90,231.36 C473.47,233.58 481.03,235.58 488.60,237.45 C496.17,239.32 503.73,240.91 511.30,242.59 C518.87,244.28 526.43,245.99 534.00,247.55 C541.57,249.10 549.13,250.50 556.70,251.93 C564.27,253.36 571.83,254.79 579.40,256.12 C586.97,257.45 594.53,258.56 602.10,259.93 C609.67,261.30 621.02,263.58 624.80,264.31" fill="none" stroke="#f01818" stroke-width="1.3" stroke-linejoin="round" stroke-linecap="round" opacity="1"/>
<path d="M397.80,210.40 C401.58,211.35 412.93,214.15 420.50,216.12 C428.07,218.08 435.63,220.08 443.20,222.21 C450.77,224.34 458.33,227.26 465.90,228.88 C473.47,230.50 481.03,230.69 488.60,231.93 C496.17,233.16 503.73,234.75 511.30,236.31 C518.87,237.86 526.43,239.67 534.00,241.26 C541.57,242.85 549.13,244.59 556.70,245.83 C564.27,247.07 571.83,247.36 579.40,248.69 C586.97,250.02 594.53,252.47 602.10,253.83 C609.67,255.20 621.02,256.37 624.80,256.88" fill="none" stroke="#cc22cc" stroke-width="1.1" stroke-linejoin="round" stroke-linecap="round" stroke-dasharray="4,2" opacity="1"/>
<path d="M397.80,210.40 C401.58,211.03 412.93,212.88 420.50,214.21 C428.07,215.54 435.63,216.94 443.20,218.40 C450.77,219.86 458.33,221.67 465.90,222.97 C473.47,224.27 481.03,224.94 488.60,226.21 C496.17,227.48 503.73,229.32 511.30,230.59 C518.87,231.86 526.43,232.78 534.00,233.83 C541.57,234.88 549.13,235.86 556.70,236.88 C564.27,237.90 571.83,239.07 579.40,239.93 C586.97,240.78 594.53,241.36 602.10,242.02 C609.67,242.69 621.02,243.61 624.80,243.93" fill="none" stroke="#1a3ccc" stroke-width="1.1" stroke-linejoin="round" stroke-linecap="round" opacity="1"/>
<path d="M397.80,210.40 C401.58,214.21 412.93,226.43 420.50,233.26 C428.07,240.09 435.63,246.25 443.20,251.36 C450.77,256.47 458.33,260.37 465.90,263.93 C473.47,267.49 481.03,269.99 488.60,272.69 C496.17,275.39 503.73,277.84 511.30,280.12 C518.87,282.41 526.43,284.54 534.00,286.41 C541.57,288.28 549.13,289.81 556.70,291.36 C564.27,292.92 571.83,294.22 579.40,295.74 C586.97,297.27 594.53,299.17 602.10,300.51 C609.67,301.84 621.02,303.21 624.80,303.75" fill="none" stroke="#222" stroke-width="1.0" stroke-linejoin="round" stroke-linecap="round" opacity="1"/>
<rect x="395.10" y="207.70" width="5.40" height="5.40" fill="#000" stroke="#000" stroke-width="0.6"/>
<rect x="417.80" y="230.56" width="5.40" height="5.40" fill="#000" stroke="#000" stroke-width="0.6"/>
<rect x="440.50" y="248.66" width="5.40" height="5.40" fill="#000" stroke="#000" stroke-width="0.6"/>
<rect x="463.20" y="261.23" width="5.40" height="5.40" fill="#000" stroke="#000" stroke-width="0.6"/>
<rect x="485.90" y="269.99" width="5.40" height="5.40" fill="#000" stroke="#000" stroke-width="0.6"/>
<rect x="508.60" y="277.42" width="5.40" height="5.40" fill="#000" stroke="#000" stroke-width="0.6"/>
<rect x="531.30" y="283.71" width="5.40" height="5.40" fill="#000" stroke="#000" stroke-width="0.6"/>
<rect x="554.00" y="288.66" width="5.40" height="5.40" fill="#000" stroke="#000" stroke-width="0.6"/>
<rect x="576.70" y="293.04" width="5.40" height="5.40" fill="#000" stroke="#000" stroke-width="0.6"/>
<rect x="599.40" y="297.81" width="5.40" height="5.40" fill="#000" stroke="#000" stroke-width="0.6"/>
<rect x="622.10" y="301.05" width="5.40" height="5.40" fill="#000" stroke="#000" stroke-width="0.6"/>
<circle cx="397.80" cy="210.40" r="2.90" fill="#ff6a6a" stroke="#ee0000" stroke-width="1.0"/>
<circle cx="420.50" cy="217.07" r="2.90" fill="#ff6a6a" stroke="#ee0000" stroke-width="1.0"/>
<circle cx="443.20" cy="224.12" r="2.90" fill="#ff6a6a" stroke="#ee0000" stroke-width="1.0"/>
<circle cx="465.90" cy="231.36" r="2.90" fill="#ff6a6a" stroke="#ee0000" stroke-width="1.0"/>
<circle cx="488.60" cy="237.45" r="2.90" fill="#ff6a6a" stroke="#ee0000" stroke-width="1.0"/>
<circle cx="511.30" cy="242.59" r="2.90" fill="#ff6a6a" stroke="#ee0000" stroke-width="1.0"/>
<circle cx="534.00" cy="247.55" r="2.90" fill="#ff6a6a" stroke="#ee0000" stroke-width="1.0"/>
<circle cx="556.70" cy="251.93" r="2.90" fill="#ff6a6a" stroke="#ee0000" stroke-width="1.0"/>
<circle cx="579.40" cy="256.12" r="2.90" fill="#ff6a6a" stroke="#ee0000" stroke-width="1.0"/>
<circle cx="602.10" cy="259.93" r="2.90" fill="#ff6a6a" stroke="#ee0000" stroke-width="1.0"/>
<circle cx="624.80" cy="264.31" r="2.90" fill="#ff6a6a" stroke="#ee0000" stroke-width="1.0"/>
<polygon points="397.80,207.50 394.50,213.30 401.10,213.30" fill="#3a80d8" stroke="#0c28b0" stroke-width="0.9" stroke-linejoin="miter"/>
<polygon points="420.50,211.31 417.20,217.11 423.80,217.11" fill="#3a80d8" stroke="#0c28b0" stroke-width="0.9" stroke-linejoin="miter"/>
<polygon points="443.20,215.50 439.90,221.30 446.50,221.30" fill="#3a80d8" stroke="#0c28b0" stroke-width="0.9" stroke-linejoin="miter"/>
<polygon points="465.90,220.07 462.60,225.87 469.20,225.87" fill="#3a80d8" stroke="#0c28b0" stroke-width="0.9" stroke-linejoin="miter"/>
<polygon points="488.60,223.31 485.30,229.11 491.90,229.11" fill="#3a80d8" stroke="#0c28b0" stroke-width="0.9" stroke-linejoin="miter"/>
<polygon points="511.30,227.69 508.00,233.49 514.60,233.49" fill="#3a80d8" stroke="#0c28b0" stroke-width="0.9" stroke-linejoin="miter"/>
<polygon points="534.00,230.93 530.70,236.73 537.30,236.73" fill="#3a80d8" stroke="#0c28b0" stroke-width="0.9" stroke-linejoin="miter"/>
<polygon points="556.70,233.98 553.40,239.78 560.00,239.78" fill="#3a80d8" stroke="#0c28b0" stroke-width="0.9" stroke-linejoin="miter"/>
<polygon points="579.40,237.03 576.10,242.83 582.70,242.83" fill="#3a80d8" stroke="#0c28b0" stroke-width="0.9" stroke-linejoin="miter"/>
<polygon points="602.10,239.12 598.80,244.92 605.40,244.92" fill="#3a80d8" stroke="#0c28b0" stroke-width="0.9" stroke-linejoin="miter"/>
<polygon points="624.80,241.03 621.50,246.83 628.10,246.83" fill="#3a80d8" stroke="#0c28b0" stroke-width="0.9" stroke-linejoin="miter"/>
<polygon points="397.80,213.30 394.50,207.50 401.10,207.50" fill="#e8a4e8" stroke="#b420bc" stroke-width="0.9" stroke-linejoin="miter"/>
<polygon points="420.50,219.02 417.20,213.22 423.80,213.22" fill="#e8a4e8" stroke="#b420bc" stroke-width="0.9" stroke-linejoin="miter"/>
<polygon points="443.20,225.11 439.90,219.31 446.50,219.31" fill="#e8a4e8" stroke="#b420bc" stroke-width="0.9" stroke-linejoin="miter"/>
<polygon points="465.90,231.78 462.60,225.98 469.20,225.98" fill="#e8a4e8" stroke="#b420bc" stroke-width="0.9" stroke-linejoin="miter"/>
<polygon points="488.60,234.83 485.30,229.03 491.90,229.03" fill="#e8a4e8" stroke="#b420bc" stroke-width="0.9" stroke-linejoin="miter"/>
<polygon points="511.30,239.21 508.00,233.41 514.60,233.41" fill="#e8a4e8" stroke="#b420bc" stroke-width="0.9" stroke-linejoin="miter"/>
<polygon points="534.00,244.16 530.70,238.36 537.30,238.36" fill="#e8a4e8" stroke="#b420bc" stroke-width="0.9" stroke-linejoin="miter"/>
<polygon points="556.70,248.73 553.40,242.93 560.00,242.93" fill="#e8a4e8" stroke="#b420bc" stroke-width="0.9" stroke-linejoin="miter"/>
<polygon points="579.40,251.59 576.10,245.79 582.70,245.79" fill="#e8a4e8" stroke="#b420bc" stroke-width="0.9" stroke-linejoin="miter"/>
<polygon points="602.10,256.73 598.80,250.93 605.40,250.93" fill="#e8a4e8" stroke="#b420bc" stroke-width="0.9" stroke-linejoin="miter"/>
<polygon points="624.80,259.78 621.50,253.98 628.10,253.98" fill="#e8a4e8" stroke="#b420bc" stroke-width="0.9" stroke-linejoin="miter"/>
<line x1="405.60" y1="286.90" x2="440.60" y2="286.90" stroke="#111" stroke-width="1.0"/>
<rect x="417.95" y="282.75" width="9.50" height="9.50" fill="#000" stroke="#000" stroke-width="0.6"/>
<line x1="405.60" y1="306.10" x2="440.60" y2="306.10" stroke="#f08080" stroke-width="1.0" stroke-dasharray="3,2"/>
<circle cx="422.60" cy="306.50" r="5.40" fill="#ff6a6a" stroke="#ee0000" stroke-width="1.1"/>
<polygon points="423.00,320.20 416.70,330.80 429.30,330.80" fill="#3a80d8" stroke="#0c28b0" stroke-width="1.1" stroke-linejoin="miter"/>
<line x1="405.60" y1="344.40" x2="440.60" y2="344.40" stroke="#e080e0" stroke-width="1.0" stroke-dasharray="3,2"/>
<polygon points="423.00,352.60 416.70,342.00 429.30,342.00" fill="#dc9ce0" stroke="#a828b0" stroke-width="1.1" stroke-linejoin="miter"/>
<text transform="translate(444.80,293.30) scale(1.0,1.1)" font-family='"Liberation Serif", serif' font-size="15.6" font-weight="normal" text-anchor="start" fill="#1a1a1a">Pristine</text>
<text transform="translate(444.80,312.60) scale(1.0,1.1)" font-family='"Liberation Serif", serif' font-size="15.6" font-weight="normal" text-anchor="start" fill="#1a1a1a">LBO 0.2</text>
<text transform="translate(444.80,332.30) scale(1.0,1.1)" font-family='"Liberation Serif", serif' font-size="15.6" font-weight="normal" text-anchor="start" fill="#1a1a1a">LBO 0.3</text>
<text transform="translate(444.80,351.00) scale(1.0,1.1)" font-family='"Liberation Serif", serif' font-size="15.6" font-weight="normal" text-anchor="start" fill="#1a1a1a">LBO 0.4</text>
</svg></body></html>
